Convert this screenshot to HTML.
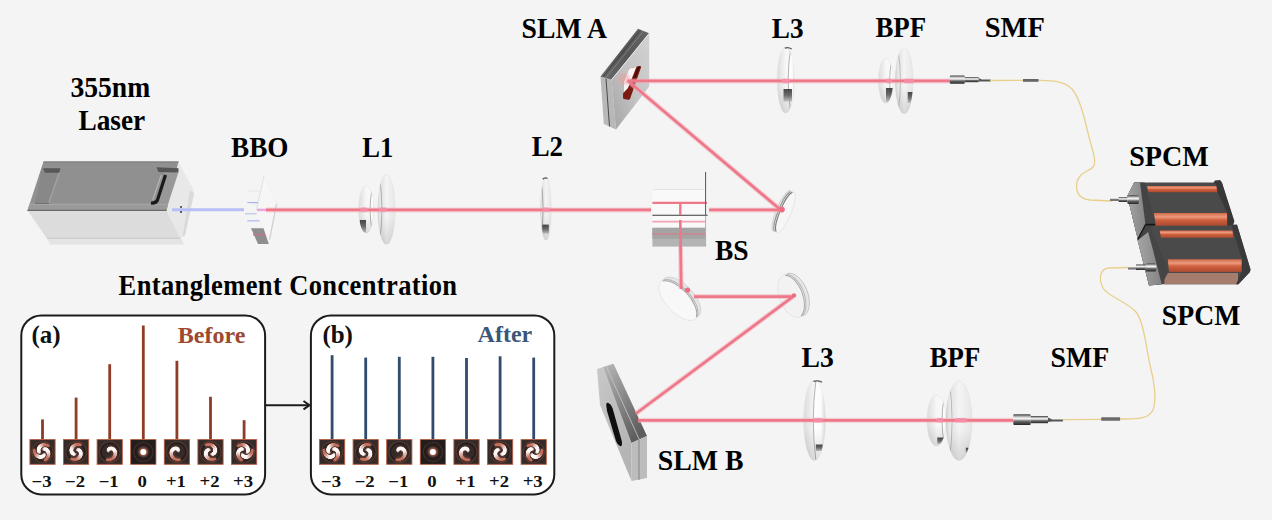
<!DOCTYPE html>
<html><head><meta charset="utf-8">
<style>
html,body{margin:0;padding:0;background:#f4f4f4;}
svg{display:block;}
</style></head>
<body>
<svg width="1272" height="520" viewBox="0 0 1272 520">
<defs>
<linearGradient id="gLens" x1="0" y1="0" x2="1" y2="0">
 <stop offset="0" stop-color="#d8d8d8"/><stop offset="0.25" stop-color="#fafafa"/><stop offset="1" stop-color="#f2f2f2"/>
</linearGradient>
<linearGradient id="gSlmTop" x1="0" y1="1" x2="1" y2="0">
 <stop offset="0" stop-color="#6a6a6a"/><stop offset="0.5" stop-color="#555555"/><stop offset="1" stop-color="#666666"/>
</linearGradient>
<linearGradient id="gSlmFace" x1="1" y1="0" x2="0" y2="1">
 <stop offset="0" stop-color="#d2d2d2"/><stop offset="0.5" stop-color="#c4c4c4"/><stop offset="1" stop-color="#a4a4a4"/>
</linearGradient>
<linearGradient id="gSlmB" x1="0" y1="0" x2="0.5" y2="1">
 <stop offset="0" stop-color="#c8c8c8"/><stop offset="1" stop-color="#b4b4b4"/>
</linearGradient>
<linearGradient id="gSlmBStrip" x1="0" y1="0" x2="0.6" y2="1">
 <stop offset="0" stop-color="#b8b8b8"/><stop offset="0.5" stop-color="#8a8a8a"/><stop offset="1" stop-color="#5e5e5e"/>
</linearGradient>
<linearGradient id="gConn" x1="0" y1="0" x2="0" y2="1">
 <stop offset="0" stop-color="#3a3a3a"/><stop offset="0.25" stop-color="#c8c8c8"/><stop offset="0.42" stop-color="#fafafa"/><stop offset="0.65" stop-color="#6a6a6a"/><stop offset="1" stop-color="#262626"/>
</linearGradient>
<linearGradient id="gOrange" x1="0" y1="0" x2="0" y2="1">
 <stop offset="0" stop-color="#d26a4a"/><stop offset="0.3" stop-color="#ec9a7c"/><stop offset="0.55" stop-color="#d0603e"/><stop offset="1" stop-color="#a84a30"/>
</linearGradient>
<linearGradient id="gLensL" x1="0" y1="0" x2="1" y2="0">
 <stop offset="0" stop-color="#d4d4d4"/><stop offset="0.3" stop-color="#f0f0f0"/><stop offset="0.6" stop-color="#fcfcfc"/><stop offset="1" stop-color="#ededed"/>
</linearGradient>
<linearGradient id="gLensR" x1="0" y1="0" x2="1" y2="0">
 <stop offset="0" stop-color="#f0f0f0"/><stop offset="0.4" stop-color="#fbfbfb"/><stop offset="0.7" stop-color="#f4f4f4"/><stop offset="1" stop-color="#d2d2d2"/>
</linearGradient>
<linearGradient id="gPatch" x1="0" y1="0" x2="0" y2="1">
 <stop offset="0" stop-color="#2a2a2a"/><stop offset="0.5" stop-color="#5a5a5a"/><stop offset="1" stop-color="#c8c8c8"/>
</linearGradient>
<linearGradient id="gBandR" x1="0" y1="0" x2="1" y2="0">
 <stop offset="0" stop-color="#ffffff"/><stop offset="0.6" stop-color="#fbfbfb"/><stop offset="1" stop-color="#cfcfcf"/>
</linearGradient>
<linearGradient id="gBandL" x1="0" y1="0" x2="1" y2="0">
 <stop offset="0" stop-color="#c4c4c4"/><stop offset="0.5" stop-color="#e2e2e2"/><stop offset="1" stop-color="#f4f4f4"/>
</linearGradient>
<linearGradient id="gFaceR" x1="0" y1="0" x2="1" y2="0">
 <stop offset="0" stop-color="#dcdcdc"/><stop offset="0.5" stop-color="#f6f6f6"/><stop offset="1" stop-color="#fafafa"/>
</linearGradient>
<linearGradient id="gFaceL" x1="0" y1="0" x2="1" y2="0">
 <stop offset="0" stop-color="#d6d8dc"/><stop offset="0.5" stop-color="#f4f4f4"/><stop offset="1" stop-color="#e6e6e6"/>
</linearGradient>
<linearGradient id="gShade" x1="0" y1="0" x2="0" y2="1">
 <stop offset="0" stop-color="#000" stop-opacity="0"/><stop offset="0.6" stop-color="#000" stop-opacity="0"/><stop offset="1" stop-color="#000" stop-opacity="0.12"/>
</linearGradient>
<linearGradient id="gCapL" x1="0" y1="0" x2="1" y2="0">
 <stop offset="0" stop-color="#a4a4a4"/><stop offset="1" stop-color="#848484"/>
</linearGradient>
<radialGradient id="gMode" cx="0.5" cy="0.5" r="0.6">
 <stop offset="0" stop-color="#5a3a34"/><stop offset="0.7" stop-color="#3a2a28"/><stop offset="1" stop-color="#2c2220"/>
</radialGradient>
<filter id="fb" x="-20%" y="-20%" width="140%" height="140%"><feGaussianBlur stdDeviation="0.6"/></filter>
<filter id="fm" x="-30%" y="-30%" width="160%" height="160%"><feGaussianBlur stdDeviation="0.55"/></filter>
<filter id="fb2" x="-50%" y="-50%" width="200%" height="200%"><feGaussianBlur stdDeviation="1.2"/></filter>
</defs>
<rect width="1272" height="520" fill="#f4f4f4"/>
<g id="laser">
<polygon points="47,238 181,238 184,244.5 50,244.5" fill="#e4e4e4"/>
<polygon points="27.5,210.5 166.5,210.5 180.5,238.5 47,238.5" fill="#dcdcdc"/>
<line x1="47" y1="238.3" x2="180.5" y2="238.3" stroke="#c4c4c4" stroke-width="0.8"/>
<polygon points="166.5,210.5 178.5,161.5 193,189 194,193.5 185,235.5 180.5,238.5" fill="#e8e8e8"/>
<polygon points="190,190 194,193.5 185,235.5 182.5,236.5" fill="#dadada"/>
<polygon points="43.5,161.5 178.5,161.5 166.5,210.5 27.5,210.5" fill="#909090"/>
<line x1="43.5" y1="162" x2="178.5" y2="162" stroke="#7a7a7a" stroke-width="1"/>
<polygon points="29.5,204 168,204 166.5,210.5 27.5,210.5" fill="#9a9a9a"/>
<line x1="29.5" y1="204.2" x2="168" y2="204.2" stroke="#b0b0b0" stroke-width="0.8"/>
<line x1="27.5" y1="210.3" x2="166.5" y2="210.3" stroke="#6a6a6a" stroke-width="1.3"/>
<polygon points="164,172 178.4,172.5 168,204 158,204" fill="#989898"/>
<polygon points="42.3,168 59.4,168 48.8,203 35,203" fill="#888888"/>
<polygon points="43,168.3 60.4,168.3 59.4,172.7 45,172.7" fill="#585858"/>
<line x1="59.4" y1="172.7" x2="48.8" y2="202.5" stroke="#a4a4a4" stroke-width="1.2"/>
<line x1="35" y1="203.5" x2="49" y2="203.5" stroke="#707070" stroke-width="1"/>
<polygon points="156.5,167.3 178.5,168.3 178.5,172.5 158.5,172" fill="#555"/>
<line x1="161.3" y1="175" x2="152.7" y2="200" stroke="#b4b4b4" stroke-width="1.2"/>
<path d="M165.5,175 L157.5,200 Q156,203.5 151,203" fill="none" stroke="#1a1a1a" stroke-width="3.2"/>
<line x1="172" y1="209.7" x2="244" y2="209.7" stroke="#b8bff6" stroke-width="3"/>
<circle cx="181" cy="207" r="1" fill="#334"/><circle cx="181" cy="212" r="1" fill="#334"/>
</g>
<g id="bbo">
<polygon points="264,175 276.5,204 269.6,239.5 256.5,210" fill="#f6f6f6"/>
<line x1="264" y1="175.5" x2="256.5" y2="210" stroke="#dcdcdc" stroke-width="0.9"/>
<line x1="264" y1="175.5" x2="276.5" y2="204" stroke="#ececec" stroke-width="0.7"/>
<line x1="276.5" y1="204" x2="269.6" y2="239.5" stroke="#cfcfcf" stroke-width="1.3"/>
<polygon points="251,228.2 263.5,228.2 268.8,244 258,244" fill="#8e8e8e"/>
<line x1="253" y1="234.6" x2="265" y2="234.6" stroke="#c07888" stroke-width="1.5"/>
<line x1="247.5" y1="191" x2="260" y2="191" stroke="#e2e2e2" stroke-width="0.8"/>
<line x1="247.3" y1="202.5" x2="258" y2="202.7" stroke="#a8b0f0" stroke-width="1.2"/>
<line x1="245" y1="213.8" x2="256.5" y2="213.8" stroke="#b4bce8" stroke-width="1"/>
<line x1="247.3" y1="220.8" x2="259.6" y2="220.8" stroke="#b0b8f0" stroke-width="1.2"/>
<line x1="257" y1="209.9" x2="266.5" y2="209.9" stroke="#eaa8e0" stroke-width="2.5"/>
</g>
<g id="bs">
<rect x="652.4" y="189" width="54" height="39" fill="#f9f9f9"/>
<line x1="653" y1="189.4" x2="704.2" y2="189.4" stroke="#dcdcdc" stroke-width="0.8"/>
<rect x="652.4" y="227.8" width="53.5" height="18.8" fill="#b4b4b4"/>
<rect x="652.4" y="227.8" width="53.5" height="11" fill="#a4a4a4"/>
<line x1="652.4" y1="233.8" x2="705" y2="233.8" stroke="#c48a90" stroke-width="1.8"/>
<line x1="652.4" y1="202.9" x2="706.9" y2="202.9" stroke="#ee7888" stroke-width="2.2"/>
<line x1="652.4" y1="215.3" x2="707.6" y2="215.3" stroke="#3a3a3a" stroke-width="1.1"/>
<line x1="652.4" y1="221.7" x2="706" y2="221.7" stroke="#f2a4b2" stroke-width="1.8"/>
<line x1="705.6" y1="172" x2="705.6" y2="215.7" stroke="#555" stroke-width="1"/>
<line x1="705.6" y1="215.7" x2="705.6" y2="246.5" stroke="#b0b0b0" stroke-width="1"/>
<line x1="680.3" y1="203" x2="680.3" y2="215" stroke="#ee7888" stroke-width="2.4"/>
<line x1="680.3" y1="220" x2="680.6" y2="250" stroke="#ee7888" stroke-width="2.6"/>
</g>
<g><clipPath id="lc1"><ellipse cx="366.1" cy="209.5" rx="7.4" ry="23.7"/></clipPath><ellipse cx="366.1" cy="209.5" rx="7.4" ry="23.7" fill="url(#gFaceR)" stroke="#e0e0e0" stroke-width="0.6"/><g clip-path="url(#lc1)"><path d="M372.5,185.8 Q367.5,209.5 372.5,233.2 L374.5,233.2 L374.5,185.8 Z" fill="url(#gBandR)"/><path d="M372.5,186.8 Q367.5,209.5 372.5,232.2" fill="none" stroke="#9c9c9c" stroke-width="0.9" opacity="0.85"/><rect x="359.7" y="220" width="6.300000000000011" height="12.5" fill="url(#gPatch)" opacity="0.85" filter="url(#fb)"/><rect x="358.70000000000005" y="185.8" width="14.8" height="47.4" fill="url(#gShade)"/></g></g>
<g><clipPath id="lc2"><ellipse cx="386.5" cy="209.6" rx="8.6" ry="35"/></clipPath><ellipse cx="386.5" cy="209.6" rx="8.6" ry="35" fill="url(#gFaceL)" stroke="#e0e0e0" stroke-width="0.6"/><g clip-path="url(#lc2)"><path d="M379.4,174.6 Q384.4,209.6 379.4,244.6 L376.9,244.6 L376.9,174.6 Z" fill="url(#gBandL)"/><path d="M379.4,175.6 Q384.4,209.6 379.4,243.6" fill="none" stroke="#8a8a8a" stroke-width="0.9" opacity="0.7"/><rect x="377.9" y="174.6" width="17.2" height="70" fill="url(#gShade)"/></g></g>
<g><clipPath id="lc3"><ellipse cx="545.9" cy="208.8" rx="5.3" ry="31.5"/></clipPath><ellipse cx="545.9" cy="208.8" rx="5.3" ry="31.5" fill="url(#gFaceL)" stroke="#e0e0e0" stroke-width="0.6"/><g clip-path="url(#lc3)"><path d="M540.6,177.3 Q545.6,208.8 540.6,240.3 L539.6,240.3 L539.6,177.3 Z" fill="url(#gBandL)"/><path d="M540.6,178.3 Q545.6,208.8 540.6,239.3" fill="none" stroke="#7a7a7a" stroke-width="0.9" opacity="0.7"/><rect x="542.3" y="224.6" width="6.5" height="9.0" fill="url(#gPatch)" opacity="0.85" filter="url(#fb)"/><rect x="540.6" y="177.3" width="10.6" height="63.0" fill="url(#gShade)"/></g><path d="M542.72,179.3 Q544.84,177.0 547.49,178.5" fill="none" stroke="#555" stroke-width="1.3"/></g>
<g><clipPath id="lc4"><ellipse cx="785.7" cy="80" rx="8.5" ry="33"/></clipPath><ellipse cx="785.7" cy="80" rx="8.5" ry="33" fill="url(#gFaceR)" stroke="#e0e0e0" stroke-width="0.6"/><g clip-path="url(#lc4)"><path d="M790.7,47 Q785.7,80 790.7,113 L795.2,113 L795.2,47 Z" fill="url(#gBandR)"/><path d="M790.7,48 Q785.7,80 790.7,112" fill="none" stroke="#9c9c9c" stroke-width="0.9" opacity="0.85"/><rect x="783.5" y="89" width="8.5" height="12.5" fill="url(#gPatch)" opacity="0.85" filter="url(#fb)"/><rect x="777.2" y="47" width="17.0" height="66" fill="url(#gShade)"/></g><path d="M784.85,48.2 Q788.25,46.7 791.6500000000001,49" fill="none" stroke="#555" stroke-width="1.3"/></g>
<g><clipPath id="lc5"><ellipse cx="885.8" cy="80.8" rx="7.3" ry="22.3"/></clipPath><ellipse cx="885.8" cy="80.8" rx="7.3" ry="22.3" fill="url(#gFaceR)" stroke="#e0e0e0" stroke-width="0.6"/><g clip-path="url(#lc5)"><path d="M892.0999999999999,58.5 Q887.0999999999999,80.8 892.0999999999999,103.1 L894.0999999999999,103.1 L894.0999999999999,58.5 Z" fill="url(#gBandR)"/><path d="M892.0999999999999,59.5 Q887.0999999999999,80.8 892.0999999999999,102.1" fill="none" stroke="#9c9c9c" stroke-width="0.9" opacity="0.85"/><rect x="886" y="88" width="7" height="13.5" fill="url(#gPatch)" opacity="0.85" filter="url(#fb)"/><rect x="878.5" y="58.5" width="14.6" height="44.6" fill="url(#gShade)"/></g></g>
<g><clipPath id="lc6"><ellipse cx="904.2" cy="80.8" rx="8.8" ry="33"/></clipPath><ellipse cx="904.2" cy="80.8" rx="8.8" ry="33" fill="url(#gFaceL)" stroke="#e0e0e0" stroke-width="0.6"/><g clip-path="url(#lc6)"><path d="M897.9000000000001,47.8 Q902.9000000000001,80.8 897.9000000000001,113.8 L894.4000000000001,113.8 L894.4000000000001,47.8 Z" fill="url(#gBandL)"/><path d="M897.9000000000001,48.8 Q902.9000000000001,80.8 897.9000000000001,112.8" fill="none" stroke="#9c9c9c" stroke-width="0.9" opacity="0.7"/><rect x="907.7" y="92" width="5.2999999999999545" height="11" fill="url(#gPatch)" opacity="0.85" filter="url(#fb)"/><rect x="895.4000000000001" y="47.8" width="17.6" height="66" fill="url(#gShade)"/></g></g>
<g><clipPath id="lc7"><ellipse cx="814.5" cy="420.4" rx="10.8" ry="40.2"/></clipPath><ellipse cx="814.5" cy="420.4" rx="10.8" ry="40.2" fill="url(#gFaceR)" stroke="#e0e0e0" stroke-width="0.6"/><g clip-path="url(#lc7)"><path d="M815.8,380.2 Q810.8,420.4 815.8,460.59999999999997 L826.3,460.59999999999997 L826.3,380.2 Z" fill="url(#gBandR)"/><path d="M815.8,381.2 Q810.8,420.4 815.8,459.59999999999997" fill="none" stroke="#9c9c9c" stroke-width="0.9" opacity="0.85"/><rect x="815.8" y="444.5" width="6.900000000000091" height="6.5" fill="url(#gPatch)" opacity="0.85" filter="url(#fb)"/><rect x="803.7" y="380.2" width="21.6" height="80.4" fill="url(#gShade)"/></g><path d="M813.42,381.4 Q817.74,379.9 822.06,382.2" fill="none" stroke="#555" stroke-width="1.3"/></g>
<g><clipPath id="lc8"><ellipse cx="936.5" cy="420.5" rx="9.5" ry="25.5"/></clipPath><ellipse cx="936.5" cy="420.5" rx="9.5" ry="25.5" fill="url(#gFaceR)" stroke="#e0e0e0" stroke-width="0.6"/><g clip-path="url(#lc8)"><path d="M944.5,395.0 Q939.5,420.5 944.5,446.0 L947.0,446.0 L947.0,395.0 Z" fill="url(#gBandR)"/><path d="M944.5,396.0 Q939.5,420.5 944.5,445.0" fill="none" stroke="#9c9c9c" stroke-width="0.9" opacity="0.85"/><rect x="937.3" y="437.5" width="6.900000000000091" height="6.5" fill="url(#gPatch)" opacity="0.85" filter="url(#fb)"/><rect x="927.0" y="395.0" width="19.0" height="51.0" fill="url(#gShade)"/></g></g>
<g><clipPath id="lc9"><ellipse cx="959" cy="420.8" rx="13" ry="39.8"/></clipPath><ellipse cx="959" cy="420.8" rx="13" ry="39.8" fill="url(#gFaceL)" stroke="#e0e0e0" stroke-width="0.6"/><g clip-path="url(#lc9)"><path d="M949.5,381.0 Q954.5,420.8 949.5,460.6 L945,460.6 L945,381.0 Z" fill="url(#gBandL)"/><path d="M949.5,382.0 Q954.5,420.8 949.5,459.6" fill="none" stroke="#9c9c9c" stroke-width="0.9" opacity="0.7"/><rect x="965.8" y="447.7" width="3.7000000000000455" height="5.300000000000011" fill="url(#gPatch)" opacity="0.85" filter="url(#fb)"/><rect x="946" y="381.0" width="26" height="79.6" fill="url(#gShade)"/></g></g>
<g transform="translate(785.5,212.5) rotate(-67.4)"><ellipse cx="0" cy="-4" rx="22" ry="5.5" fill="#e4e4e4" stroke="#cfcfcf" stroke-width="0.8"/><rect x="-22" y="-4" width="44" height="4" fill="#e4e4e4"/><ellipse cx="0" cy="0" rx="22" ry="5.5" fill="#f6f6f6" stroke="#dedede" stroke-width="0.6"/><path d="M-21.34,-1.40 A22,5.5 0 0 1 21.34,-1.40" fill="none" stroke="#707070" stroke-width="1.1" opacity="0.9"/><path d="M-21.34,-3.20 A22,5.5 0 0 1 21.34,-3.20" fill="none" stroke="#707070" stroke-width="1.1" opacity="0.7"/></g>
<g transform="translate(678.5,300) rotate(47)"><ellipse cx="0" cy="-3.5" rx="25.5" ry="12.5" fill="#e6e6e6" stroke="#cfcfcf" stroke-width="0.8"/><rect x="-25.5" y="-3.5" width="51.0" height="3.5" fill="#e6e6e6"/><ellipse cx="0" cy="0" rx="25.5" ry="12.5" fill="#f8f8f8" stroke="#dedede" stroke-width="0.6"/><path d="M-24.735,-1.22 A25.5,12.5 0 0 1 24.735,-1.22" fill="none" stroke="#a0a0a0" stroke-width="1.1" opacity="0.9"/><path d="M-24.735,-2.80 A25.5,12.5 0 0 1 24.735,-2.80" fill="none" stroke="#a0a0a0" stroke-width="1.1" opacity="0.7"/></g>
<g transform="translate(792,296) rotate(69)"><ellipse cx="0" cy="-3.5" rx="22.5" ry="12.5" fill="#e6e6e6" stroke="#c0c0c0" stroke-width="0.8"/><rect x="-22.5" y="-3.5" width="45.0" height="3.5" fill="#e6e6e6"/><ellipse cx="0" cy="0" rx="22.5" ry="12.5" fill="#f2f2f2" stroke="#dedede" stroke-width="0.6"/><path d="M-21.825,-1.22 A22.5,12.5 0 0 1 21.825,-1.22" fill="none" stroke="#a0a0a0" stroke-width="1.0" opacity="0.9"/><path d="M-21.825,-2.80 A22.5,12.5 0 0 1 21.825,-2.80" fill="none" stroke="#a0a0a0" stroke-width="1.0" opacity="0.7"/></g>
<g id="slmA">
<polygon points="600.5,76.4 611.6,79.7 616,129.5 603.8,124" fill="#b8b8b8"/>
<line x1="606" y1="78.5" x2="609.5" y2="126.5" stroke="#4a4a4a" stroke-width="1"/>
<polygon points="600.5,76.4 638,28.8 649.2,33.3 611.6,79.7" fill="url(#gSlmTop)"/>
<line x1="603" y1="77" x2="640" y2="30.5" stroke="#3a3a3a" stroke-width="0.8"/>
<polygon points="611.6,79.7 649.2,33.3 649.2,86.4 616,129.5" fill="url(#gSlmFace)"/>
<line x1="611.6" y1="79.7" x2="649.2" y2="33.3" stroke="#e8e8e8" stroke-width="1"/>
<line x1="606" y1="77.5" x2="643.5" y2="31" stroke="#8a8a8a" stroke-width="0.8"/>
<path d="M629,68.5 L640,66 Q641.5,66 641,67.5 L630,99 Q629.5,100 628,99.8 L624,99 Q622.8,98.8 623,97 L623.5,82 Z" fill="#7a1c12"/>
<path d="M629,68.5 L636.5,66.8 L628,88 L623.3,93 L623.5,82 Z" fill="#f8f4f4"/>
<path d="M637.5,66.6 L640.5,66 L634,82 L631.5,83 Z" fill="#3a0804" opacity="0.7"/>
<circle cx="624" cy="79" r="6" fill="#f09a9a" opacity="0.45" filter="url(#fb2)"/>
</g>
<g id="slmB">
<polygon points="597,369 603,367 631.5,443 631.5,481 600,405" fill="url(#gSlmB)"/>
<polygon points="603,367 613.5,363.8 647,436 631.5,443" fill="url(#gSlmBStrip)"/>
<line x1="606" y1="366" x2="639" y2="439" stroke="#c8c8c8" stroke-width="0.8"/>
<polygon points="631.5,443 647,436 647,478 631.5,481" fill="#bcbcbc"/>
<line x1="639" y1="440" x2="639" y2="480" stroke="#777" stroke-width="0.8"/>
<path d="M606.5,407 Q605.5,402 608.5,403 Q611,404 612.5,408 L621.5,440 Q623,447 620,446 Q617.5,445 616,441 L607,411 Z" fill="#0e0e0e"/>
</g>
<g stroke="#f4b4c0" stroke-width="5" fill="none" opacity="0.55">
<line x1="266" y1="209.9" x2="651" y2="209.9"/>
<line x1="709" y1="209.9" x2="779" y2="209.9"/>
<line x1="779" y1="208.5" x2="627.5" y2="80.5"/>
<line x1="627.5" y1="80.9" x2="950" y2="80.9"/>
<line x1="680.6" y1="246" x2="681.2" y2="289"/>
<line x1="694" y1="296.6" x2="793" y2="296.6"/>
<line x1="793" y1="296.6" x2="636" y2="413.5"/>
<line x1="638" y1="420.3" x2="1013" y2="420.3"/>
</g>
<g id="beams" stroke="#ee7888" stroke-width="2.8" fill="none">
<line x1="266" y1="209.9" x2="651" y2="209.9"/>
<line x1="709" y1="209.9" x2="779" y2="209.9"/>
<line x1="779" y1="208.5" x2="627.5" y2="80.5" stroke-width="2.8"/>
<line x1="627.5" y1="80.9" x2="950" y2="80.9"/>
<line x1="680.6" y1="246" x2="681.2" y2="289" stroke-width="2.8"/>
<line x1="694" y1="296.6" x2="793" y2="296.6"/>
<line x1="793" y1="296.6" x2="636" y2="413.5" stroke-width="2.8"/>
<line x1="638" y1="420.3" x2="1013" y2="420.3"/>
</g>
<g fill="#f06a80" filter="url(#fb)"><circle cx="782" cy="209.6" r="2.8"/><circle cx="687.5" cy="290" r="2.6"/><circle cx="794" cy="295.5" r="2.2"/></g>
<g fill="#f590a8" opacity="0.9"><rect x="360.5" y="207.4" width="7" height="4.4" rx="1.5"/><rect x="379.0" y="207.4" width="8" height="4.4" rx="1.5"/><rect x="542.5" y="207.4" width="7" height="4.4" rx="1.5"/><rect x="782.0" y="78.8" width="8" height="4.4" rx="1.5"/><rect x="886.0" y="78.8" width="6" height="4.4" rx="1.5"/><rect x="904.0" y="78.8" width="10" height="4.4" rx="1.5"/><rect x="813.0" y="418.1" width="10" height="4.4" rx="1.5"/><rect x="936.5" y="418.1" width="7" height="4.4" rx="1.5"/><rect x="955.0" y="418.1" width="12" height="4.4" rx="1.5"/></g>
<g><rect x="949.8" y="75.39999999999999" width="15" height="8.4" rx="1" fill="url(#gConn)"/><rect x="964.8" y="77.0" width="13.9" height="5.2" fill="url(#gConn)"/><path d="M978.6999999999999,78.03999999999999 L981.8199999999999,79.6 L990.8,79.6 L990.8,81.6 L981.8199999999999,81.6 L978.6999999999999,81.41999999999999 Z" fill="#555"/></g>
<g><rect x="1013.3" y="414.20000000000005" width="17.4" height="10.8" rx="1" fill="url(#gConn)"/><rect x="1030.7" y="416.0" width="17.3" height="7.2" fill="url(#gConn)"/><path d="M1048.0,417.44 L1052.32,419.6 L1062.9,419.6 L1062.9,421.6 L1052.32,421.6 L1048.0,422.12 Z" fill="#555"/></g>
<g fill="none" stroke="#e8cf8c" stroke-width="1.3">
<path d="M990,80.5 L1023,80.3"/>
<path d="M1038.5,80.3 C1050,80.5 1063,80 1072,89 C1080,98 1085,120 1089,137 C1093,152 1097,162 1093,167 C1088,172 1080,172 1077,182 C1075,193 1080,199 1090,200 L1112,201"/>
<path d="M1062.9,419.7 L1101.2,419.3"/>
<path d="M1120,419 C1135,419 1148,420 1153,410 C1157,400 1154,380 1150,365 C1146,345 1143,320 1136,312 C1125,300 1108,297 1103,288 C1098,278 1100,268 1110,268 L1128,267.5"/>
</g>
<rect x="1023" y="79" width="15.5" height="2.8" fill="#666"/>
<rect x="1101.2" y="417.3" width="18.9" height="3.5" rx="0.5" fill="#6a6a6a"/>
<g id="spcm">
<!-- lower unit -->
<polygon points="1164.4,272 1241,272 1238.4,284.2 1164.4,284.2" fill="#b08272"/>
<polygon points="1150,224.5 1237,224.5 1250.5,269.4 1249.9,272 1238.4,284.2 1161.7,284.2 1149,285.6 1137.5,239.8 1140,224.5" fill="#4a4a4a"/>
<polygon points="1164.4,273 1238,273 1238,284 1164.4,284" fill="#b08272" opacity="0.9"/>
<polygon points="1140,227 1150,227 1169,271 1161.7,284.2 1149,285.6 1137.5,239.8" fill="#454545"/>
<polygon points="1137.5,240 1147,227.7 1153,250 1161.7,284.2 1149,285.6" fill="url(#gCapL)"/>
<polygon points="1159.7,230.4 1232.4,230.4 1233.5,237.8 1161,237.8" fill="url(#gOrange)"/>
<polygon points="1167.8,259.3 1241.8,259.3 1241.8,272.1 1169,272.1" fill="url(#gOrange)"/>
<polygon points="1231.7,225 1237,225 1250.5,269.4 1249.9,272 1238.4,284.2 1236,284.2 1241.8,272 1241.8,259 1233,230" fill="#3a3a3a"/>
<!-- upper unit -->
<polygon points="1134.2,182.5 1221.6,182.5 1234.3,221.2 1233,224.7 1227.3,225.8 1155,226 1148,232 1138,240 1127.3,196" fill="#4a4a4a"/>
<polygon points="1134.2,182.5 1144.6,182.5 1155,224 1149,231 1138,240 1127.3,196" fill="#444"/>
<polygon points="1134.2,182.5 1140,182.5 1145.4,224 1137.7,239.5 1127.3,196" fill="url(#gCapL)"/>
<line x1="1145.6" y1="224.5" x2="1137.9" y2="239" stroke="#151515" stroke-width="1.3"/>
<line x1="1145.5" y1="224.6" x2="1155" y2="224.6" stroke="#151515" stroke-width="1.6"/>
<polygon points="1147,186 1217,186 1217.5,192.3 1148.5,192.3" fill="url(#gOrange)"/>
<polygon points="1153.9,213 1227.3,213 1227.3,225.8 1156,225.8" fill="url(#gOrange)"/>
<polygon points="1213.5,182.5 1215,180.5 1220,180 1222,182.5 1234.3,221.2 1233,224.7 1227.3,225.8 1227.3,213 1217.5,192.3 1216,184" fill="#383838"/>
<!-- connectors -->
<rect x="1110" y="198.8" width="9" height="2.2" fill="#777"/>
<rect x="1118.7" y="197" width="8.6" height="5" fill="url(#gConn)"/>
<rect x="1127.3" y="195.2" width="11.6" height="8.7" rx="1.5" fill="url(#gConn)"/>
<rect x="1128" y="267.4" width="8" height="2.2" fill="#777"/>
<rect x="1136" y="264.5" width="9.6" height="5.5" fill="url(#gConn)"/>
<rect x="1145.6" y="263.4" width="10.7" height="8" rx="1.5" fill="url(#gConn)"/>
</g>
<rect x="21.3" y="315.4" width="243.8" height="179" rx="20" ry="20" fill="#fff" stroke="#1c1c1c" stroke-width="2"/>
<rect x="310.9" y="315.4" width="243.4" height="179" rx="20" ry="20" fill="#fff" stroke="#1c1c1c" stroke-width="2"/>
<line x1="265" y1="405.2" x2="309" y2="405.2" stroke="#1c1c1c" stroke-width="2"/>
<polyline points="303.5,401 309.5,405.2 303.5,409.4" fill="none" stroke="#1c1c1c" stroke-width="2"/>
<line x1="42.5" y1="419.4" x2="42.5" y2="439.5" stroke="#8e3c28" stroke-width="2.8"/>
<g transform="translate(29.5,439.2)"><rect x="0.4" y="0.4" width="25.2" height="24.7" fill="#342a28" stroke="#b45c40" stroke-width="0.9"/><circle cx="13" cy="12.75" r="10.4" fill="none" stroke="#6a4238" stroke-width="1.3" opacity="0.5" filter="url(#fb)"/><circle cx="13" cy="12.75" r="8.8" fill="none" stroke="#1c1514" stroke-width="1.6" opacity="0.6" filter="url(#fb)"/><g filter="url(#fb2)" opacity="0.55"><line x1="9.57" y1="12.65" x2="9.35" y2="12.21" stroke="#a05a48" stroke-width="5"/><line x1="9.35" y1="12.21" x2="9.19" y2="11.72" stroke="#a05a48" stroke-width="5"/><line x1="9.19" y1="11.72" x2="9.09" y2="11.19" stroke="#a05a48" stroke-width="5"/><line x1="9.09" y1="11.19" x2="9.07" y2="10.62" stroke="#a05a48" stroke-width="5"/><line x1="9.07" y1="10.62" x2="9.14" y2="10.03" stroke="#a05a48" stroke-width="5"/><line x1="9.14" y1="10.03" x2="9.29" y2="9.43" stroke="#a05a48" stroke-width="5"/><line x1="9.29" y1="9.43" x2="9.53" y2="8.82" stroke="#a05a48" stroke-width="5"/><line x1="9.53" y1="8.82" x2="9.86" y2="8.23" stroke="#a05a48" stroke-width="5"/><line x1="9.86" y1="8.23" x2="10.29" y2="7.67" stroke="#a05a48" stroke-width="5"/><line x1="10.29" y1="7.67" x2="10.80" y2="7.15" stroke="#a05a48" stroke-width="5"/><line x1="10.80" y1="7.15" x2="11.40" y2="6.68" stroke="#a05a48" stroke-width="5"/><line x1="11.40" y1="6.68" x2="12.09" y2="6.28" stroke="#a05a48" stroke-width="5"/><line x1="12.09" y1="6.28" x2="12.84" y2="5.96" stroke="#a05a48" stroke-width="5"/><line x1="12.84" y1="5.96" x2="13.65" y2="5.73" stroke="#a05a48" stroke-width="5"/><line x1="13.65" y1="5.73" x2="14.52" y2="5.60" stroke="#a05a48" stroke-width="5"/><line x1="14.52" y1="5.60" x2="15.42" y2="5.58" stroke="#a05a48" stroke-width="5"/><line x1="15.42" y1="5.58" x2="16.35" y2="5.68" stroke="#a05a48" stroke-width="5"/><line x1="16.35" y1="5.68" x2="17.29" y2="5.90" stroke="#a05a48" stroke-width="5"/><line x1="17.29" y1="5.90" x2="18.22" y2="6.24" stroke="#a05a48" stroke-width="5"/><line x1="18.22" y1="6.24" x2="19.13" y2="6.71" stroke="#a05a48" stroke-width="5"/><line x1="14.81" y1="9.83" x2="15.29" y2="9.86" stroke="#a05a48" stroke-width="5"/><line x1="15.29" y1="9.86" x2="15.80" y2="9.96" stroke="#a05a48" stroke-width="5"/><line x1="15.80" y1="9.96" x2="16.31" y2="10.15" stroke="#a05a48" stroke-width="5"/><line x1="16.31" y1="10.15" x2="16.81" y2="10.41" stroke="#a05a48" stroke-width="5"/><line x1="16.81" y1="10.41" x2="17.29" y2="10.77" stroke="#a05a48" stroke-width="5"/><line x1="17.29" y1="10.77" x2="17.74" y2="11.20" stroke="#a05a48" stroke-width="5"/><line x1="17.74" y1="11.20" x2="18.14" y2="11.71" stroke="#a05a48" stroke-width="5"/><line x1="18.14" y1="11.71" x2="18.48" y2="12.29" stroke="#a05a48" stroke-width="5"/><line x1="18.48" y1="12.29" x2="18.76" y2="12.94" stroke="#a05a48" stroke-width="5"/><line x1="18.76" y1="12.94" x2="18.95" y2="13.65" stroke="#a05a48" stroke-width="5"/><line x1="18.95" y1="13.65" x2="19.05" y2="14.40" stroke="#a05a48" stroke-width="5"/><line x1="19.05" y1="14.40" x2="19.06" y2="15.19" stroke="#a05a48" stroke-width="5"/><line x1="19.06" y1="15.19" x2="18.96" y2="16.00" stroke="#a05a48" stroke-width="5"/><line x1="18.96" y1="16.00" x2="18.75" y2="16.83" stroke="#a05a48" stroke-width="5"/><line x1="18.75" y1="16.83" x2="18.43" y2="17.64" stroke="#a05a48" stroke-width="5"/><line x1="18.43" y1="17.64" x2="17.99" y2="18.43" stroke="#a05a48" stroke-width="5"/><line x1="17.99" y1="18.43" x2="17.45" y2="19.19" stroke="#a05a48" stroke-width="5"/><line x1="17.45" y1="19.19" x2="16.79" y2="19.89" stroke="#a05a48" stroke-width="5"/><line x1="16.79" y1="19.89" x2="16.02" y2="20.52" stroke="#a05a48" stroke-width="5"/><line x1="16.02" y1="20.52" x2="15.16" y2="21.07" stroke="#a05a48" stroke-width="5"/><line x1="14.63" y1="15.77" x2="14.36" y2="16.18" stroke="#a05a48" stroke-width="5"/><line x1="14.36" y1="16.18" x2="14.02" y2="16.57" stroke="#a05a48" stroke-width="5"/><line x1="14.02" y1="16.57" x2="13.60" y2="16.92" stroke="#a05a48" stroke-width="5"/><line x1="13.60" y1="16.92" x2="13.12" y2="17.22" stroke="#a05a48" stroke-width="5"/><line x1="13.12" y1="17.22" x2="12.57" y2="17.46" stroke="#a05a48" stroke-width="5"/><line x1="12.57" y1="17.46" x2="11.98" y2="17.63" stroke="#a05a48" stroke-width="5"/><line x1="11.98" y1="17.63" x2="11.33" y2="17.72" stroke="#a05a48" stroke-width="5"/><line x1="11.33" y1="17.72" x2="10.66" y2="17.73" stroke="#a05a48" stroke-width="5"/><line x1="10.66" y1="17.73" x2="9.96" y2="17.64" stroke="#a05a48" stroke-width="5"/><line x1="9.96" y1="17.64" x2="9.25" y2="17.45" stroke="#a05a48" stroke-width="5"/><line x1="9.25" y1="17.45" x2="8.54" y2="17.17" stroke="#a05a48" stroke-width="5"/><line x1="8.54" y1="17.17" x2="7.86" y2="16.78" stroke="#a05a48" stroke-width="5"/><line x1="7.86" y1="16.78" x2="7.20" y2="16.28" stroke="#a05a48" stroke-width="5"/><line x1="7.20" y1="16.28" x2="6.59" y2="15.69" stroke="#a05a48" stroke-width="5"/><line x1="6.59" y1="15.69" x2="6.05" y2="15.01" stroke="#a05a48" stroke-width="5"/><line x1="6.05" y1="15.01" x2="5.58" y2="14.23" stroke="#a05a48" stroke-width="5"/><line x1="5.58" y1="14.23" x2="5.20" y2="13.38" stroke="#a05a48" stroke-width="5"/><line x1="5.20" y1="13.38" x2="4.92" y2="12.46" stroke="#a05a48" stroke-width="5"/><line x1="4.92" y1="12.46" x2="4.76" y2="11.48" stroke="#a05a48" stroke-width="5"/><line x1="4.76" y1="11.48" x2="4.71" y2="10.46" stroke="#a05a48" stroke-width="5"/></g><g filter="url(#fm)"><line x1="10.82" y1="13.76" x2="10.48" y2="13.59" stroke="#67423b" stroke-width="1.75" stroke-linecap="round"/><line x1="10.48" y1="13.59" x2="10.14" y2="13.34" stroke="#83645d" stroke-width="2.05" stroke-linecap="round"/><line x1="10.14" y1="13.34" x2="9.84" y2="13.02" stroke="#9e857f" stroke-width="2.35" stroke-linecap="round"/><line x1="9.84" y1="13.02" x2="9.57" y2="12.65" stroke="#baa6a2" stroke-width="2.65" stroke-linecap="round"/><line x1="9.57" y1="12.65" x2="9.35" y2="12.21" stroke="#d5c8c4" stroke-width="2.95" stroke-linecap="round"/><line x1="9.35" y1="12.21" x2="9.19" y2="11.72" stroke="#f1e9e6" stroke-width="3.25" stroke-linecap="round"/><line x1="9.19" y1="11.72" x2="9.09" y2="11.19" stroke="#fffaf8" stroke-width="3.40" stroke-linecap="round"/><line x1="9.09" y1="11.19" x2="9.07" y2="10.62" stroke="#fffaf8" stroke-width="3.40" stroke-linecap="round"/><line x1="9.07" y1="10.62" x2="9.14" y2="10.03" stroke="#fffaf8" stroke-width="3.40" stroke-linecap="round"/><line x1="9.14" y1="10.03" x2="9.29" y2="9.43" stroke="#fffaf8" stroke-width="3.40" stroke-linecap="round"/><line x1="9.29" y1="9.43" x2="9.53" y2="8.82" stroke="#fffaf8" stroke-width="3.40" stroke-linecap="round"/><line x1="9.53" y1="8.82" x2="9.86" y2="8.23" stroke="#fffaf8" stroke-width="3.40" stroke-linecap="round"/><line x1="9.86" y1="8.23" x2="10.29" y2="7.67" stroke="#fffaf8" stroke-width="3.40" stroke-linecap="round"/><line x1="10.29" y1="7.67" x2="10.80" y2="7.15" stroke="#fffaf8" stroke-width="3.40" stroke-linecap="round"/><line x1="10.80" y1="7.15" x2="11.40" y2="6.68" stroke="#fef7f5" stroke-width="3.39" stroke-linecap="round"/><line x1="11.40" y1="6.68" x2="12.09" y2="6.28" stroke="#f4e2dd" stroke-width="3.24" stroke-linecap="round"/><line x1="12.09" y1="6.28" x2="12.84" y2="5.96" stroke="#ebccc4" stroke-width="3.09" stroke-linecap="round"/><line x1="12.84" y1="5.96" x2="13.65" y2="5.73" stroke="#e2b7ac" stroke-width="2.95" stroke-linecap="round"/><line x1="13.65" y1="5.73" x2="14.52" y2="5.60" stroke="#d9a194" stroke-width="2.80" stroke-linecap="round"/><line x1="14.52" y1="5.60" x2="15.42" y2="5.58" stroke="#cf8c7b" stroke-width="2.66" stroke-linecap="round"/><line x1="15.42" y1="5.58" x2="16.35" y2="5.68" stroke="#c67663" stroke-width="2.51" stroke-linecap="round"/><line x1="16.35" y1="5.68" x2="17.29" y2="5.90" stroke="#c4705c" stroke-width="2.36" stroke-linecap="round"/><line x1="17.29" y1="5.90" x2="18.22" y2="6.24" stroke="#c4705c" stroke-width="2.22" stroke-linecap="round"/><line x1="18.22" y1="6.24" x2="19.13" y2="6.71" stroke="#c4705c" stroke-width="2.07" stroke-linecap="round"/><line x1="13.21" y1="10.36" x2="13.54" y2="10.15" stroke="#67423b" stroke-width="1.75" stroke-linecap="round"/><line x1="13.54" y1="10.15" x2="13.92" y2="9.98" stroke="#83645d" stroke-width="2.05" stroke-linecap="round"/><line x1="13.92" y1="9.98" x2="14.34" y2="9.87" stroke="#9e857f" stroke-width="2.35" stroke-linecap="round"/><line x1="14.34" y1="9.87" x2="14.81" y2="9.83" stroke="#baa6a2" stroke-width="2.65" stroke-linecap="round"/><line x1="14.81" y1="9.83" x2="15.29" y2="9.86" stroke="#d5c8c4" stroke-width="2.95" stroke-linecap="round"/><line x1="15.29" y1="9.86" x2="15.80" y2="9.96" stroke="#f1e9e6" stroke-width="3.25" stroke-linecap="round"/><line x1="15.80" y1="9.96" x2="16.31" y2="10.15" stroke="#fffaf8" stroke-width="3.40" stroke-linecap="round"/><line x1="16.31" y1="10.15" x2="16.81" y2="10.41" stroke="#fffaf8" stroke-width="3.40" stroke-linecap="round"/><line x1="16.81" y1="10.41" x2="17.29" y2="10.77" stroke="#fffaf8" stroke-width="3.40" stroke-linecap="round"/><line x1="17.29" y1="10.77" x2="17.74" y2="11.20" stroke="#fffaf8" stroke-width="3.40" stroke-linecap="round"/><line x1="17.74" y1="11.20" x2="18.14" y2="11.71" stroke="#fffaf8" stroke-width="3.40" stroke-linecap="round"/><line x1="18.14" y1="11.71" x2="18.48" y2="12.29" stroke="#fffaf8" stroke-width="3.40" stroke-linecap="round"/><line x1="18.48" y1="12.29" x2="18.76" y2="12.94" stroke="#fffaf8" stroke-width="3.40" stroke-linecap="round"/><line x1="18.76" y1="12.94" x2="18.95" y2="13.65" stroke="#fffaf8" stroke-width="3.40" stroke-linecap="round"/><line x1="18.95" y1="13.65" x2="19.05" y2="14.40" stroke="#fef7f5" stroke-width="3.39" stroke-linecap="round"/><line x1="19.05" y1="14.40" x2="19.06" y2="15.19" stroke="#f4e2dd" stroke-width="3.24" stroke-linecap="round"/><line x1="19.06" y1="15.19" x2="18.96" y2="16.00" stroke="#ebccc4" stroke-width="3.09" stroke-linecap="round"/><line x1="18.96" y1="16.00" x2="18.75" y2="16.83" stroke="#e2b7ac" stroke-width="2.95" stroke-linecap="round"/><line x1="18.75" y1="16.83" x2="18.43" y2="17.64" stroke="#d9a194" stroke-width="2.80" stroke-linecap="round"/><line x1="18.43" y1="17.64" x2="17.99" y2="18.43" stroke="#cf8c7b" stroke-width="2.66" stroke-linecap="round"/><line x1="17.99" y1="18.43" x2="17.45" y2="19.19" stroke="#c67663" stroke-width="2.51" stroke-linecap="round"/><line x1="17.45" y1="19.19" x2="16.79" y2="19.89" stroke="#c4705c" stroke-width="2.36" stroke-linecap="round"/><line x1="16.79" y1="19.89" x2="16.02" y2="20.52" stroke="#c4705c" stroke-width="2.22" stroke-linecap="round"/><line x1="16.02" y1="20.52" x2="15.16" y2="21.07" stroke="#c4705c" stroke-width="2.07" stroke-linecap="round"/><line x1="14.97" y1="14.13" x2="14.99" y2="14.52" stroke="#67423b" stroke-width="1.75" stroke-linecap="round"/><line x1="14.99" y1="14.52" x2="14.94" y2="14.93" stroke="#83645d" stroke-width="2.05" stroke-linecap="round"/><line x1="14.94" y1="14.93" x2="14.82" y2="15.35" stroke="#9e857f" stroke-width="2.35" stroke-linecap="round"/><line x1="14.82" y1="15.35" x2="14.63" y2="15.77" stroke="#baa6a2" stroke-width="2.65" stroke-linecap="round"/><line x1="14.63" y1="15.77" x2="14.36" y2="16.18" stroke="#d5c8c4" stroke-width="2.95" stroke-linecap="round"/><line x1="14.36" y1="16.18" x2="14.02" y2="16.57" stroke="#f1e9e6" stroke-width="3.25" stroke-linecap="round"/><line x1="14.02" y1="16.57" x2="13.60" y2="16.92" stroke="#fffaf8" stroke-width="3.40" stroke-linecap="round"/><line x1="13.60" y1="16.92" x2="13.12" y2="17.22" stroke="#fffaf8" stroke-width="3.40" stroke-linecap="round"/><line x1="13.12" y1="17.22" x2="12.57" y2="17.46" stroke="#fffaf8" stroke-width="3.40" stroke-linecap="round"/><line x1="12.57" y1="17.46" x2="11.98" y2="17.63" stroke="#fffaf8" stroke-width="3.40" stroke-linecap="round"/><line x1="11.98" y1="17.63" x2="11.33" y2="17.72" stroke="#fffaf8" stroke-width="3.40" stroke-linecap="round"/><line x1="11.33" y1="17.72" x2="10.66" y2="17.73" stroke="#fffaf8" stroke-width="3.40" stroke-linecap="round"/><line x1="10.66" y1="17.73" x2="9.96" y2="17.64" stroke="#fffaf8" stroke-width="3.40" stroke-linecap="round"/><line x1="9.96" y1="17.64" x2="9.25" y2="17.45" stroke="#fffaf8" stroke-width="3.40" stroke-linecap="round"/><line x1="9.25" y1="17.45" x2="8.54" y2="17.17" stroke="#fef7f5" stroke-width="3.39" stroke-linecap="round"/><line x1="8.54" y1="17.17" x2="7.86" y2="16.78" stroke="#f4e2dd" stroke-width="3.24" stroke-linecap="round"/><line x1="7.86" y1="16.78" x2="7.20" y2="16.28" stroke="#ebccc4" stroke-width="3.09" stroke-linecap="round"/><line x1="7.20" y1="16.28" x2="6.59" y2="15.69" stroke="#e2b7ac" stroke-width="2.95" stroke-linecap="round"/><line x1="6.59" y1="15.69" x2="6.05" y2="15.01" stroke="#d9a194" stroke-width="2.80" stroke-linecap="round"/><line x1="6.05" y1="15.01" x2="5.58" y2="14.23" stroke="#cf8c7b" stroke-width="2.66" stroke-linecap="round"/><line x1="5.58" y1="14.23" x2="5.20" y2="13.38" stroke="#c67663" stroke-width="2.51" stroke-linecap="round"/><line x1="5.20" y1="13.38" x2="4.92" y2="12.46" stroke="#c4705c" stroke-width="2.36" stroke-linecap="round"/><line x1="4.92" y1="12.46" x2="4.76" y2="11.48" stroke="#c4705c" stroke-width="2.22" stroke-linecap="round"/><line x1="4.76" y1="11.48" x2="4.71" y2="10.46" stroke="#c4705c" stroke-width="2.07" stroke-linecap="round"/></g></g>
<text transform="translate(41.5,486.8) scale(1.25,1.05)" x="0" y="0" text-anchor="middle" style="font-family:'Liberation Serif',serif;font-weight:bold;font-size:15px" fill="#111">−3</text>
<line x1="76.1" y1="397.6" x2="76.1" y2="439.5" stroke="#8e3c28" stroke-width="2.8"/>
<g transform="translate(63.1,439.2)"><rect x="0.4" y="0.4" width="25.2" height="24.7" fill="#342a28" stroke="#b45c40" stroke-width="0.9"/><circle cx="13" cy="12.75" r="10.4" fill="none" stroke="#6a4238" stroke-width="1.3" opacity="0.5" filter="url(#fb)"/><circle cx="13" cy="12.75" r="8.8" fill="none" stroke="#1c1514" stroke-width="1.6" opacity="0.6" filter="url(#fb)"/><g filter="url(#fb2)" opacity="0.55"><line x1="11.03" y1="14.88" x2="10.52" y2="14.73" stroke="#a05a48" stroke-width="5"/><line x1="10.52" y1="14.73" x2="10.01" y2="14.47" stroke="#a05a48" stroke-width="5"/><line x1="10.01" y1="14.47" x2="9.53" y2="14.11" stroke="#a05a48" stroke-width="5"/><line x1="9.53" y1="14.11" x2="9.10" y2="13.63" stroke="#a05a48" stroke-width="5"/><line x1="9.10" y1="13.63" x2="8.74" y2="13.06" stroke="#a05a48" stroke-width="5"/><line x1="8.74" y1="13.06" x2="8.46" y2="12.40" stroke="#a05a48" stroke-width="5"/><line x1="8.46" y1="12.40" x2="8.30" y2="11.66" stroke="#a05a48" stroke-width="5"/><line x1="8.30" y1="11.66" x2="8.26" y2="10.87" stroke="#a05a48" stroke-width="5"/><line x1="8.26" y1="10.87" x2="8.36" y2="10.04" stroke="#a05a48" stroke-width="5"/><line x1="8.36" y1="10.04" x2="8.60" y2="9.21" stroke="#a05a48" stroke-width="5"/><line x1="8.60" y1="9.21" x2="8.99" y2="8.39" stroke="#a05a48" stroke-width="5"/><line x1="8.99" y1="8.39" x2="9.53" y2="7.61" stroke="#a05a48" stroke-width="5"/><line x1="9.53" y1="7.61" x2="10.22" y2="6.90" stroke="#a05a48" stroke-width="5"/><line x1="10.22" y1="6.90" x2="11.05" y2="6.29" stroke="#a05a48" stroke-width="5"/><line x1="11.05" y1="6.29" x2="12.00" y2="5.80" stroke="#a05a48" stroke-width="5"/><line x1="12.00" y1="5.80" x2="13.05" y2="5.45" stroke="#a05a48" stroke-width="5"/><line x1="13.05" y1="5.45" x2="14.18" y2="5.27" stroke="#a05a48" stroke-width="5"/><line x1="14.18" y1="5.27" x2="15.37" y2="5.27" stroke="#a05a48" stroke-width="5"/><line x1="15.37" y1="5.27" x2="16.58" y2="5.46" stroke="#a05a48" stroke-width="5"/><line x1="16.58" y1="5.46" x2="17.79" y2="5.85" stroke="#a05a48" stroke-width="5"/><line x1="14.97" y1="10.62" x2="15.48" y2="10.77" stroke="#a05a48" stroke-width="5"/><line x1="15.48" y1="10.77" x2="15.99" y2="11.03" stroke="#a05a48" stroke-width="5"/><line x1="15.99" y1="11.03" x2="16.47" y2="11.39" stroke="#a05a48" stroke-width="5"/><line x1="16.47" y1="11.39" x2="16.90" y2="11.87" stroke="#a05a48" stroke-width="5"/><line x1="16.90" y1="11.87" x2="17.26" y2="12.44" stroke="#a05a48" stroke-width="5"/><line x1="17.26" y1="12.44" x2="17.54" y2="13.10" stroke="#a05a48" stroke-width="5"/><line x1="17.54" y1="13.10" x2="17.70" y2="13.84" stroke="#a05a48" stroke-width="5"/><line x1="17.70" y1="13.84" x2="17.74" y2="14.63" stroke="#a05a48" stroke-width="5"/><line x1="17.74" y1="14.63" x2="17.64" y2="15.46" stroke="#a05a48" stroke-width="5"/><line x1="17.64" y1="15.46" x2="17.40" y2="16.29" stroke="#a05a48" stroke-width="5"/><line x1="17.40" y1="16.29" x2="17.01" y2="17.11" stroke="#a05a48" stroke-width="5"/><line x1="17.01" y1="17.11" x2="16.47" y2="17.89" stroke="#a05a48" stroke-width="5"/><line x1="16.47" y1="17.89" x2="15.78" y2="18.60" stroke="#a05a48" stroke-width="5"/><line x1="15.78" y1="18.60" x2="14.95" y2="19.21" stroke="#a05a48" stroke-width="5"/><line x1="14.95" y1="19.21" x2="14.00" y2="19.70" stroke="#a05a48" stroke-width="5"/><line x1="14.00" y1="19.70" x2="12.95" y2="20.05" stroke="#a05a48" stroke-width="5"/><line x1="12.95" y1="20.05" x2="11.82" y2="20.23" stroke="#a05a48" stroke-width="5"/><line x1="11.82" y1="20.23" x2="10.63" y2="20.23" stroke="#a05a48" stroke-width="5"/><line x1="10.63" y1="20.23" x2="9.42" y2="20.04" stroke="#a05a48" stroke-width="5"/><line x1="9.42" y1="20.04" x2="8.21" y2="19.65" stroke="#a05a48" stroke-width="5"/></g><g filter="url(#fm)"><line x1="12.73" y1="14.53" x2="12.39" y2="14.73" stroke="#67423b" stroke-width="1.75" stroke-linecap="round"/><line x1="12.39" y1="14.73" x2="11.98" y2="14.87" stroke="#83645d" stroke-width="2.05" stroke-linecap="round"/><line x1="11.98" y1="14.87" x2="11.52" y2="14.92" stroke="#9e857f" stroke-width="2.35" stroke-linecap="round"/><line x1="11.52" y1="14.92" x2="11.03" y2="14.88" stroke="#baa6a2" stroke-width="2.65" stroke-linecap="round"/><line x1="11.03" y1="14.88" x2="10.52" y2="14.73" stroke="#d5c8c4" stroke-width="2.95" stroke-linecap="round"/><line x1="10.52" y1="14.73" x2="10.01" y2="14.47" stroke="#f1e9e6" stroke-width="3.25" stroke-linecap="round"/><line x1="10.01" y1="14.47" x2="9.53" y2="14.11" stroke="#fffaf8" stroke-width="3.40" stroke-linecap="round"/><line x1="9.53" y1="14.11" x2="9.10" y2="13.63" stroke="#fffaf8" stroke-width="3.40" stroke-linecap="round"/><line x1="9.10" y1="13.63" x2="8.74" y2="13.06" stroke="#fffaf8" stroke-width="3.40" stroke-linecap="round"/><line x1="8.74" y1="13.06" x2="8.46" y2="12.40" stroke="#fffaf8" stroke-width="3.40" stroke-linecap="round"/><line x1="8.46" y1="12.40" x2="8.30" y2="11.66" stroke="#fffaf8" stroke-width="3.40" stroke-linecap="round"/><line x1="8.30" y1="11.66" x2="8.26" y2="10.87" stroke="#fffaf8" stroke-width="3.40" stroke-linecap="round"/><line x1="8.26" y1="10.87" x2="8.36" y2="10.04" stroke="#fffaf8" stroke-width="3.40" stroke-linecap="round"/><line x1="8.36" y1="10.04" x2="8.60" y2="9.21" stroke="#fffaf8" stroke-width="3.40" stroke-linecap="round"/><line x1="8.60" y1="9.21" x2="8.99" y2="8.39" stroke="#fef7f5" stroke-width="3.39" stroke-linecap="round"/><line x1="8.99" y1="8.39" x2="9.53" y2="7.61" stroke="#f4e2dd" stroke-width="3.24" stroke-linecap="round"/><line x1="9.53" y1="7.61" x2="10.22" y2="6.90" stroke="#ebccc4" stroke-width="3.09" stroke-linecap="round"/><line x1="10.22" y1="6.90" x2="11.05" y2="6.29" stroke="#e2b7ac" stroke-width="2.95" stroke-linecap="round"/><line x1="11.05" y1="6.29" x2="12.00" y2="5.80" stroke="#d9a194" stroke-width="2.80" stroke-linecap="round"/><line x1="12.00" y1="5.80" x2="13.05" y2="5.45" stroke="#cf8c7b" stroke-width="2.66" stroke-linecap="round"/><line x1="13.05" y1="5.45" x2="14.18" y2="5.27" stroke="#c67663" stroke-width="2.51" stroke-linecap="round"/><line x1="14.18" y1="5.27" x2="15.37" y2="5.27" stroke="#c4705c" stroke-width="2.36" stroke-linecap="round"/><line x1="15.37" y1="5.27" x2="16.58" y2="5.46" stroke="#c4705c" stroke-width="2.22" stroke-linecap="round"/><line x1="16.58" y1="5.46" x2="17.79" y2="5.85" stroke="#c4705c" stroke-width="2.07" stroke-linecap="round"/><line x1="13.27" y1="10.97" x2="13.61" y2="10.77" stroke="#67423b" stroke-width="1.75" stroke-linecap="round"/><line x1="13.61" y1="10.77" x2="14.02" y2="10.63" stroke="#83645d" stroke-width="2.05" stroke-linecap="round"/><line x1="14.02" y1="10.63" x2="14.48" y2="10.58" stroke="#9e857f" stroke-width="2.35" stroke-linecap="round"/><line x1="14.48" y1="10.58" x2="14.97" y2="10.62" stroke="#baa6a2" stroke-width="2.65" stroke-linecap="round"/><line x1="14.97" y1="10.62" x2="15.48" y2="10.77" stroke="#d5c8c4" stroke-width="2.95" stroke-linecap="round"/><line x1="15.48" y1="10.77" x2="15.99" y2="11.03" stroke="#f1e9e6" stroke-width="3.25" stroke-linecap="round"/><line x1="15.99" y1="11.03" x2="16.47" y2="11.39" stroke="#fffaf8" stroke-width="3.40" stroke-linecap="round"/><line x1="16.47" y1="11.39" x2="16.90" y2="11.87" stroke="#fffaf8" stroke-width="3.40" stroke-linecap="round"/><line x1="16.90" y1="11.87" x2="17.26" y2="12.44" stroke="#fffaf8" stroke-width="3.40" stroke-linecap="round"/><line x1="17.26" y1="12.44" x2="17.54" y2="13.10" stroke="#fffaf8" stroke-width="3.40" stroke-linecap="round"/><line x1="17.54" y1="13.10" x2="17.70" y2="13.84" stroke="#fffaf8" stroke-width="3.40" stroke-linecap="round"/><line x1="17.70" y1="13.84" x2="17.74" y2="14.63" stroke="#fffaf8" stroke-width="3.40" stroke-linecap="round"/><line x1="17.74" y1="14.63" x2="17.64" y2="15.46" stroke="#fffaf8" stroke-width="3.40" stroke-linecap="round"/><line x1="17.64" y1="15.46" x2="17.40" y2="16.29" stroke="#fffaf8" stroke-width="3.40" stroke-linecap="round"/><line x1="17.40" y1="16.29" x2="17.01" y2="17.11" stroke="#fef7f5" stroke-width="3.39" stroke-linecap="round"/><line x1="17.01" y1="17.11" x2="16.47" y2="17.89" stroke="#f4e2dd" stroke-width="3.24" stroke-linecap="round"/><line x1="16.47" y1="17.89" x2="15.78" y2="18.60" stroke="#ebccc4" stroke-width="3.09" stroke-linecap="round"/><line x1="15.78" y1="18.60" x2="14.95" y2="19.21" stroke="#e2b7ac" stroke-width="2.95" stroke-linecap="round"/><line x1="14.95" y1="19.21" x2="14.00" y2="19.70" stroke="#d9a194" stroke-width="2.80" stroke-linecap="round"/><line x1="14.00" y1="19.70" x2="12.95" y2="20.05" stroke="#cf8c7b" stroke-width="2.66" stroke-linecap="round"/><line x1="12.95" y1="20.05" x2="11.82" y2="20.23" stroke="#c67663" stroke-width="2.51" stroke-linecap="round"/><line x1="11.82" y1="20.23" x2="10.63" y2="20.23" stroke="#c4705c" stroke-width="2.36" stroke-linecap="round"/><line x1="10.63" y1="20.23" x2="9.42" y2="20.04" stroke="#c4705c" stroke-width="2.22" stroke-linecap="round"/><line x1="9.42" y1="20.04" x2="8.21" y2="19.65" stroke="#c4705c" stroke-width="2.07" stroke-linecap="round"/></g></g>
<text transform="translate(75.1,486.8) scale(1.25,1.05)" x="0" y="0" text-anchor="middle" style="font-family:'Liberation Serif',serif;font-weight:bold;font-size:15px" fill="#111">−2</text>
<line x1="109.7" y1="364.2" x2="109.7" y2="439.5" stroke="#8e3c28" stroke-width="2.8"/>
<g transform="translate(96.7,439.2)"><rect x="0.4" y="0.4" width="25.2" height="24.7" fill="#342a28" stroke="#b45c40" stroke-width="0.9"/><circle cx="13" cy="12.75" r="10.4" fill="none" stroke="#6a4238" stroke-width="1.3" opacity="0.5" filter="url(#fb)"/><circle cx="13" cy="12.75" r="8.8" fill="none" stroke="#1c1514" stroke-width="1.6" opacity="0.6" filter="url(#fb)"/><g filter="url(#fb2)" opacity="0.55"><line x1="11.53" y1="10.89" x2="11.82" y2="10.37" stroke="#a05a48" stroke-width="5"/><line x1="11.82" y1="10.37" x2="12.27" y2="9.89" stroke="#a05a48" stroke-width="5"/><line x1="12.27" y1="9.89" x2="12.86" y2="9.51" stroke="#a05a48" stroke-width="5"/><line x1="12.86" y1="9.51" x2="13.58" y2="9.27" stroke="#a05a48" stroke-width="5"/><line x1="13.58" y1="9.27" x2="14.40" y2="9.19" stroke="#a05a48" stroke-width="5"/><line x1="14.40" y1="9.19" x2="15.26" y2="9.31" stroke="#a05a48" stroke-width="5"/><line x1="15.26" y1="9.31" x2="16.13" y2="9.65" stroke="#a05a48" stroke-width="5"/><line x1="16.13" y1="9.65" x2="16.95" y2="10.21" stroke="#a05a48" stroke-width="5"/><line x1="16.95" y1="10.21" x2="17.67" y2="10.98" stroke="#a05a48" stroke-width="5"/><line x1="17.67" y1="10.98" x2="18.22" y2="11.93" stroke="#a05a48" stroke-width="5"/><line x1="18.22" y1="11.93" x2="18.57" y2="13.05" stroke="#a05a48" stroke-width="5"/><line x1="18.57" y1="13.05" x2="18.67" y2="14.27" stroke="#a05a48" stroke-width="5"/><line x1="18.67" y1="14.27" x2="18.49" y2="15.54" stroke="#a05a48" stroke-width="5"/><line x1="18.49" y1="15.54" x2="18.02" y2="16.80" stroke="#a05a48" stroke-width="5"/><line x1="18.02" y1="16.80" x2="17.26" y2="17.97" stroke="#a05a48" stroke-width="5"/><line x1="17.26" y1="17.97" x2="16.22" y2="19.00" stroke="#a05a48" stroke-width="5"/><line x1="16.22" y1="19.00" x2="14.94" y2="19.81" stroke="#a05a48" stroke-width="5"/><line x1="14.94" y1="19.81" x2="13.45" y2="20.35" stroke="#a05a48" stroke-width="5"/><line x1="13.45" y1="20.35" x2="11.83" y2="20.57" stroke="#a05a48" stroke-width="5"/><line x1="11.83" y1="20.57" x2="10.13" y2="20.43" stroke="#a05a48" stroke-width="5"/></g><g filter="url(#fm)"><line x1="11.80" y1="12.67" x2="11.57" y2="12.34" stroke="#67423b" stroke-width="1.75" stroke-linecap="round"/><line x1="11.57" y1="12.34" x2="11.42" y2="11.92" stroke="#83645d" stroke-width="2.05" stroke-linecap="round"/><line x1="11.42" y1="11.92" x2="11.41" y2="11.42" stroke="#9e857f" stroke-width="2.35" stroke-linecap="round"/><line x1="11.41" y1="11.42" x2="11.53" y2="10.89" stroke="#baa6a2" stroke-width="2.65" stroke-linecap="round"/><line x1="11.53" y1="10.89" x2="11.82" y2="10.37" stroke="#d5c8c4" stroke-width="2.95" stroke-linecap="round"/><line x1="11.82" y1="10.37" x2="12.27" y2="9.89" stroke="#f1e9e6" stroke-width="3.25" stroke-linecap="round"/><line x1="12.27" y1="9.89" x2="12.86" y2="9.51" stroke="#fffaf8" stroke-width="3.40" stroke-linecap="round"/><line x1="12.86" y1="9.51" x2="13.58" y2="9.27" stroke="#fffaf8" stroke-width="3.40" stroke-linecap="round"/><line x1="13.58" y1="9.27" x2="14.40" y2="9.19" stroke="#fffaf8" stroke-width="3.40" stroke-linecap="round"/><line x1="14.40" y1="9.19" x2="15.26" y2="9.31" stroke="#fffaf8" stroke-width="3.40" stroke-linecap="round"/><line x1="15.26" y1="9.31" x2="16.13" y2="9.65" stroke="#fffaf8" stroke-width="3.40" stroke-linecap="round"/><line x1="16.13" y1="9.65" x2="16.95" y2="10.21" stroke="#fffaf8" stroke-width="3.40" stroke-linecap="round"/><line x1="16.95" y1="10.21" x2="17.67" y2="10.98" stroke="#fffaf8" stroke-width="3.40" stroke-linecap="round"/><line x1="17.67" y1="10.98" x2="18.22" y2="11.93" stroke="#fffaf8" stroke-width="3.40" stroke-linecap="round"/><line x1="18.22" y1="11.93" x2="18.57" y2="13.05" stroke="#fef7f5" stroke-width="3.39" stroke-linecap="round"/><line x1="18.57" y1="13.05" x2="18.67" y2="14.27" stroke="#f4e2dd" stroke-width="3.24" stroke-linecap="round"/><line x1="18.67" y1="14.27" x2="18.49" y2="15.54" stroke="#ebccc4" stroke-width="3.09" stroke-linecap="round"/><line x1="18.49" y1="15.54" x2="18.02" y2="16.80" stroke="#e2b7ac" stroke-width="2.95" stroke-linecap="round"/><line x1="18.02" y1="16.80" x2="17.26" y2="17.97" stroke="#d9a194" stroke-width="2.80" stroke-linecap="round"/><line x1="17.26" y1="17.97" x2="16.22" y2="19.00" stroke="#cf8c7b" stroke-width="2.66" stroke-linecap="round"/><line x1="16.22" y1="19.00" x2="14.94" y2="19.81" stroke="#c67663" stroke-width="2.51" stroke-linecap="round"/><line x1="14.94" y1="19.81" x2="13.45" y2="20.35" stroke="#c4705c" stroke-width="2.36" stroke-linecap="round"/><line x1="13.45" y1="20.35" x2="11.83" y2="20.57" stroke="#c4705c" stroke-width="2.22" stroke-linecap="round"/><line x1="11.83" y1="20.57" x2="10.13" y2="20.43" stroke="#c4705c" stroke-width="2.07" stroke-linecap="round"/></g></g>
<text transform="translate(108.7,486.8) scale(1.25,1.05)" x="0" y="0" text-anchor="middle" style="font-family:'Liberation Serif',serif;font-weight:bold;font-size:15px" fill="#111">−1</text>
<line x1="143.3" y1="325.5" x2="143.3" y2="439.5" stroke="#8e3c28" stroke-width="2.8"/>
<g transform="translate(130.3,439.2)"><rect x="0.4" y="0.4" width="25.2" height="24.7" fill="#342a28" stroke="#b45c40" stroke-width="0.9"/><circle cx="13" cy="12.75" r="10.4" fill="none" stroke="#6a4238" stroke-width="1.3" opacity="0.5" filter="url(#fb)"/><rect x="1" y="1" width="24" height="23.5" fill="#221c1b"/><circle cx="13" cy="12.75" r="9.6" fill="none" stroke="#4a3430" stroke-width="1.4" opacity="0.7" filter="url(#fb)"/><circle cx="13" cy="12.75" r="4.8" fill="#a8624c" filter="url(#fb2)"/><circle cx="13" cy="12.75" r="3.0" fill="#fff" filter="url(#fb)"/></g>
<text transform="translate(142.3,486.8) scale(1.25,1.05)" x="0" y="0" text-anchor="middle" style="font-family:'Liberation Serif',serif;font-weight:bold;font-size:15px" fill="#111">0</text>
<line x1="176.9" y1="360.8" x2="176.9" y2="439.5" stroke="#8e3c28" stroke-width="2.8"/>
<g transform="translate(163.9,439.2)"><rect x="0.4" y="0.4" width="25.2" height="24.7" fill="#342a28" stroke="#b45c40" stroke-width="0.9"/><circle cx="13" cy="12.75" r="10.4" fill="none" stroke="#6a4238" stroke-width="1.3" opacity="0.5" filter="url(#fb)"/><circle cx="13" cy="12.75" r="8.8" fill="none" stroke="#1c1514" stroke-width="1.6" opacity="0.6" filter="url(#fb)"/><g filter="url(#fb2)" opacity="0.55"><line x1="14.47" y1="10.89" x2="14.18" y2="10.37" stroke="#a05a48" stroke-width="5"/><line x1="14.18" y1="10.37" x2="13.73" y2="9.89" stroke="#a05a48" stroke-width="5"/><line x1="13.73" y1="9.89" x2="13.14" y2="9.51" stroke="#a05a48" stroke-width="5"/><line x1="13.14" y1="9.51" x2="12.42" y2="9.27" stroke="#a05a48" stroke-width="5"/><line x1="12.42" y1="9.27" x2="11.60" y2="9.19" stroke="#a05a48" stroke-width="5"/><line x1="11.60" y1="9.19" x2="10.74" y2="9.31" stroke="#a05a48" stroke-width="5"/><line x1="10.74" y1="9.31" x2="9.87" y2="9.65" stroke="#a05a48" stroke-width="5"/><line x1="9.87" y1="9.65" x2="9.05" y2="10.21" stroke="#a05a48" stroke-width="5"/><line x1="9.05" y1="10.21" x2="8.33" y2="10.98" stroke="#a05a48" stroke-width="5"/><line x1="8.33" y1="10.98" x2="7.78" y2="11.93" stroke="#a05a48" stroke-width="5"/><line x1="7.78" y1="11.93" x2="7.43" y2="13.05" stroke="#a05a48" stroke-width="5"/><line x1="7.43" y1="13.05" x2="7.33" y2="14.27" stroke="#a05a48" stroke-width="5"/><line x1="7.33" y1="14.27" x2="7.51" y2="15.54" stroke="#a05a48" stroke-width="5"/><line x1="7.51" y1="15.54" x2="7.98" y2="16.80" stroke="#a05a48" stroke-width="5"/><line x1="7.98" y1="16.80" x2="8.74" y2="17.97" stroke="#a05a48" stroke-width="5"/><line x1="8.74" y1="17.97" x2="9.78" y2="19.00" stroke="#a05a48" stroke-width="5"/><line x1="9.78" y1="19.00" x2="11.06" y2="19.81" stroke="#a05a48" stroke-width="5"/><line x1="11.06" y1="19.81" x2="12.55" y2="20.35" stroke="#a05a48" stroke-width="5"/><line x1="12.55" y1="20.35" x2="14.17" y2="20.57" stroke="#a05a48" stroke-width="5"/><line x1="14.17" y1="20.57" x2="15.87" y2="20.43" stroke="#a05a48" stroke-width="5"/></g><g filter="url(#fm)"><line x1="14.20" y1="12.67" x2="14.43" y2="12.34" stroke="#67423b" stroke-width="1.75" stroke-linecap="round"/><line x1="14.43" y1="12.34" x2="14.58" y2="11.92" stroke="#83645d" stroke-width="2.05" stroke-linecap="round"/><line x1="14.58" y1="11.92" x2="14.59" y2="11.42" stroke="#9e857f" stroke-width="2.35" stroke-linecap="round"/><line x1="14.59" y1="11.42" x2="14.47" y2="10.89" stroke="#baa6a2" stroke-width="2.65" stroke-linecap="round"/><line x1="14.47" y1="10.89" x2="14.18" y2="10.37" stroke="#d5c8c4" stroke-width="2.95" stroke-linecap="round"/><line x1="14.18" y1="10.37" x2="13.73" y2="9.89" stroke="#f1e9e6" stroke-width="3.25" stroke-linecap="round"/><line x1="13.73" y1="9.89" x2="13.14" y2="9.51" stroke="#fffaf8" stroke-width="3.40" stroke-linecap="round"/><line x1="13.14" y1="9.51" x2="12.42" y2="9.27" stroke="#fffaf8" stroke-width="3.40" stroke-linecap="round"/><line x1="12.42" y1="9.27" x2="11.60" y2="9.19" stroke="#fffaf8" stroke-width="3.40" stroke-linecap="round"/><line x1="11.60" y1="9.19" x2="10.74" y2="9.31" stroke="#fffaf8" stroke-width="3.40" stroke-linecap="round"/><line x1="10.74" y1="9.31" x2="9.87" y2="9.65" stroke="#fffaf8" stroke-width="3.40" stroke-linecap="round"/><line x1="9.87" y1="9.65" x2="9.05" y2="10.21" stroke="#fffaf8" stroke-width="3.40" stroke-linecap="round"/><line x1="9.05" y1="10.21" x2="8.33" y2="10.98" stroke="#fffaf8" stroke-width="3.40" stroke-linecap="round"/><line x1="8.33" y1="10.98" x2="7.78" y2="11.93" stroke="#fffaf8" stroke-width="3.40" stroke-linecap="round"/><line x1="7.78" y1="11.93" x2="7.43" y2="13.05" stroke="#fef7f5" stroke-width="3.39" stroke-linecap="round"/><line x1="7.43" y1="13.05" x2="7.33" y2="14.27" stroke="#f4e2dd" stroke-width="3.24" stroke-linecap="round"/><line x1="7.33" y1="14.27" x2="7.51" y2="15.54" stroke="#ebccc4" stroke-width="3.09" stroke-linecap="round"/><line x1="7.51" y1="15.54" x2="7.98" y2="16.80" stroke="#e2b7ac" stroke-width="2.95" stroke-linecap="round"/><line x1="7.98" y1="16.80" x2="8.74" y2="17.97" stroke="#d9a194" stroke-width="2.80" stroke-linecap="round"/><line x1="8.74" y1="17.97" x2="9.78" y2="19.00" stroke="#cf8c7b" stroke-width="2.66" stroke-linecap="round"/><line x1="9.78" y1="19.00" x2="11.06" y2="19.81" stroke="#c67663" stroke-width="2.51" stroke-linecap="round"/><line x1="11.06" y1="19.81" x2="12.55" y2="20.35" stroke="#c4705c" stroke-width="2.36" stroke-linecap="round"/><line x1="12.55" y1="20.35" x2="14.17" y2="20.57" stroke="#c4705c" stroke-width="2.22" stroke-linecap="round"/><line x1="14.17" y1="20.57" x2="15.87" y2="20.43" stroke="#c4705c" stroke-width="2.07" stroke-linecap="round"/></g></g>
<text transform="translate(175.9,486.8) scale(1.25,1.05)" x="0" y="0" text-anchor="middle" style="font-family:'Liberation Serif',serif;font-weight:bold;font-size:15px" fill="#111">+1</text>
<line x1="210.5" y1="396.8" x2="210.5" y2="439.5" stroke="#8e3c28" stroke-width="2.8"/>
<g transform="translate(197.5,439.2)"><rect x="0.4" y="0.4" width="25.2" height="24.7" fill="#342a28" stroke="#b45c40" stroke-width="0.9"/><circle cx="13" cy="12.75" r="10.4" fill="none" stroke="#6a4238" stroke-width="1.3" opacity="0.5" filter="url(#fb)"/><circle cx="13" cy="12.75" r="8.8" fill="none" stroke="#1c1514" stroke-width="1.6" opacity="0.6" filter="url(#fb)"/><g filter="url(#fb2)" opacity="0.55"><line x1="14.97" y1="14.88" x2="15.48" y2="14.73" stroke="#a05a48" stroke-width="5"/><line x1="15.48" y1="14.73" x2="15.99" y2="14.47" stroke="#a05a48" stroke-width="5"/><line x1="15.99" y1="14.47" x2="16.47" y2="14.11" stroke="#a05a48" stroke-width="5"/><line x1="16.47" y1="14.11" x2="16.90" y2="13.63" stroke="#a05a48" stroke-width="5"/><line x1="16.90" y1="13.63" x2="17.26" y2="13.06" stroke="#a05a48" stroke-width="5"/><line x1="17.26" y1="13.06" x2="17.54" y2="12.40" stroke="#a05a48" stroke-width="5"/><line x1="17.54" y1="12.40" x2="17.70" y2="11.66" stroke="#a05a48" stroke-width="5"/><line x1="17.70" y1="11.66" x2="17.74" y2="10.87" stroke="#a05a48" stroke-width="5"/><line x1="17.74" y1="10.87" x2="17.64" y2="10.04" stroke="#a05a48" stroke-width="5"/><line x1="17.64" y1="10.04" x2="17.40" y2="9.21" stroke="#a05a48" stroke-width="5"/><line x1="17.40" y1="9.21" x2="17.01" y2="8.39" stroke="#a05a48" stroke-width="5"/><line x1="17.01" y1="8.39" x2="16.47" y2="7.61" stroke="#a05a48" stroke-width="5"/><line x1="16.47" y1="7.61" x2="15.78" y2="6.90" stroke="#a05a48" stroke-width="5"/><line x1="15.78" y1="6.90" x2="14.95" y2="6.29" stroke="#a05a48" stroke-width="5"/><line x1="14.95" y1="6.29" x2="14.00" y2="5.80" stroke="#a05a48" stroke-width="5"/><line x1="14.00" y1="5.80" x2="12.95" y2="5.45" stroke="#a05a48" stroke-width="5"/><line x1="12.95" y1="5.45" x2="11.82" y2="5.27" stroke="#a05a48" stroke-width="5"/><line x1="11.82" y1="5.27" x2="10.63" y2="5.27" stroke="#a05a48" stroke-width="5"/><line x1="10.63" y1="5.27" x2="9.42" y2="5.46" stroke="#a05a48" stroke-width="5"/><line x1="9.42" y1="5.46" x2="8.21" y2="5.85" stroke="#a05a48" stroke-width="5"/><line x1="11.03" y1="10.62" x2="10.52" y2="10.77" stroke="#a05a48" stroke-width="5"/><line x1="10.52" y1="10.77" x2="10.01" y2="11.03" stroke="#a05a48" stroke-width="5"/><line x1="10.01" y1="11.03" x2="9.53" y2="11.39" stroke="#a05a48" stroke-width="5"/><line x1="9.53" y1="11.39" x2="9.10" y2="11.87" stroke="#a05a48" stroke-width="5"/><line x1="9.10" y1="11.87" x2="8.74" y2="12.44" stroke="#a05a48" stroke-width="5"/><line x1="8.74" y1="12.44" x2="8.46" y2="13.10" stroke="#a05a48" stroke-width="5"/><line x1="8.46" y1="13.10" x2="8.30" y2="13.84" stroke="#a05a48" stroke-width="5"/><line x1="8.30" y1="13.84" x2="8.26" y2="14.63" stroke="#a05a48" stroke-width="5"/><line x1="8.26" y1="14.63" x2="8.36" y2="15.46" stroke="#a05a48" stroke-width="5"/><line x1="8.36" y1="15.46" x2="8.60" y2="16.29" stroke="#a05a48" stroke-width="5"/><line x1="8.60" y1="16.29" x2="8.99" y2="17.11" stroke="#a05a48" stroke-width="5"/><line x1="8.99" y1="17.11" x2="9.53" y2="17.89" stroke="#a05a48" stroke-width="5"/><line x1="9.53" y1="17.89" x2="10.22" y2="18.60" stroke="#a05a48" stroke-width="5"/><line x1="10.22" y1="18.60" x2="11.05" y2="19.21" stroke="#a05a48" stroke-width="5"/><line x1="11.05" y1="19.21" x2="12.00" y2="19.70" stroke="#a05a48" stroke-width="5"/><line x1="12.00" y1="19.70" x2="13.05" y2="20.05" stroke="#a05a48" stroke-width="5"/><line x1="13.05" y1="20.05" x2="14.18" y2="20.23" stroke="#a05a48" stroke-width="5"/><line x1="14.18" y1="20.23" x2="15.37" y2="20.23" stroke="#a05a48" stroke-width="5"/><line x1="15.37" y1="20.23" x2="16.58" y2="20.04" stroke="#a05a48" stroke-width="5"/><line x1="16.58" y1="20.04" x2="17.79" y2="19.65" stroke="#a05a48" stroke-width="5"/></g><g filter="url(#fm)"><line x1="13.27" y1="14.53" x2="13.61" y2="14.73" stroke="#67423b" stroke-width="1.75" stroke-linecap="round"/><line x1="13.61" y1="14.73" x2="14.02" y2="14.87" stroke="#83645d" stroke-width="2.05" stroke-linecap="round"/><line x1="14.02" y1="14.87" x2="14.48" y2="14.92" stroke="#9e857f" stroke-width="2.35" stroke-linecap="round"/><line x1="14.48" y1="14.92" x2="14.97" y2="14.88" stroke="#baa6a2" stroke-width="2.65" stroke-linecap="round"/><line x1="14.97" y1="14.88" x2="15.48" y2="14.73" stroke="#d5c8c4" stroke-width="2.95" stroke-linecap="round"/><line x1="15.48" y1="14.73" x2="15.99" y2="14.47" stroke="#f1e9e6" stroke-width="3.25" stroke-linecap="round"/><line x1="15.99" y1="14.47" x2="16.47" y2="14.11" stroke="#fffaf8" stroke-width="3.40" stroke-linecap="round"/><line x1="16.47" y1="14.11" x2="16.90" y2="13.63" stroke="#fffaf8" stroke-width="3.40" stroke-linecap="round"/><line x1="16.90" y1="13.63" x2="17.26" y2="13.06" stroke="#fffaf8" stroke-width="3.40" stroke-linecap="round"/><line x1="17.26" y1="13.06" x2="17.54" y2="12.40" stroke="#fffaf8" stroke-width="3.40" stroke-linecap="round"/><line x1="17.54" y1="12.40" x2="17.70" y2="11.66" stroke="#fffaf8" stroke-width="3.40" stroke-linecap="round"/><line x1="17.70" y1="11.66" x2="17.74" y2="10.87" stroke="#fffaf8" stroke-width="3.40" stroke-linecap="round"/><line x1="17.74" y1="10.87" x2="17.64" y2="10.04" stroke="#fffaf8" stroke-width="3.40" stroke-linecap="round"/><line x1="17.64" y1="10.04" x2="17.40" y2="9.21" stroke="#fffaf8" stroke-width="3.40" stroke-linecap="round"/><line x1="17.40" y1="9.21" x2="17.01" y2="8.39" stroke="#fef7f5" stroke-width="3.39" stroke-linecap="round"/><line x1="17.01" y1="8.39" x2="16.47" y2="7.61" stroke="#f4e2dd" stroke-width="3.24" stroke-linecap="round"/><line x1="16.47" y1="7.61" x2="15.78" y2="6.90" stroke="#ebccc4" stroke-width="3.09" stroke-linecap="round"/><line x1="15.78" y1="6.90" x2="14.95" y2="6.29" stroke="#e2b7ac" stroke-width="2.95" stroke-linecap="round"/><line x1="14.95" y1="6.29" x2="14.00" y2="5.80" stroke="#d9a194" stroke-width="2.80" stroke-linecap="round"/><line x1="14.00" y1="5.80" x2="12.95" y2="5.45" stroke="#cf8c7b" stroke-width="2.66" stroke-linecap="round"/><line x1="12.95" y1="5.45" x2="11.82" y2="5.27" stroke="#c67663" stroke-width="2.51" stroke-linecap="round"/><line x1="11.82" y1="5.27" x2="10.63" y2="5.27" stroke="#c4705c" stroke-width="2.36" stroke-linecap="round"/><line x1="10.63" y1="5.27" x2="9.42" y2="5.46" stroke="#c4705c" stroke-width="2.22" stroke-linecap="round"/><line x1="9.42" y1="5.46" x2="8.21" y2="5.85" stroke="#c4705c" stroke-width="2.07" stroke-linecap="round"/><line x1="12.73" y1="10.97" x2="12.39" y2="10.77" stroke="#67423b" stroke-width="1.75" stroke-linecap="round"/><line x1="12.39" y1="10.77" x2="11.98" y2="10.63" stroke="#83645d" stroke-width="2.05" stroke-linecap="round"/><line x1="11.98" y1="10.63" x2="11.52" y2="10.58" stroke="#9e857f" stroke-width="2.35" stroke-linecap="round"/><line x1="11.52" y1="10.58" x2="11.03" y2="10.62" stroke="#baa6a2" stroke-width="2.65" stroke-linecap="round"/><line x1="11.03" y1="10.62" x2="10.52" y2="10.77" stroke="#d5c8c4" stroke-width="2.95" stroke-linecap="round"/><line x1="10.52" y1="10.77" x2="10.01" y2="11.03" stroke="#f1e9e6" stroke-width="3.25" stroke-linecap="round"/><line x1="10.01" y1="11.03" x2="9.53" y2="11.39" stroke="#fffaf8" stroke-width="3.40" stroke-linecap="round"/><line x1="9.53" y1="11.39" x2="9.10" y2="11.87" stroke="#fffaf8" stroke-width="3.40" stroke-linecap="round"/><line x1="9.10" y1="11.87" x2="8.74" y2="12.44" stroke="#fffaf8" stroke-width="3.40" stroke-linecap="round"/><line x1="8.74" y1="12.44" x2="8.46" y2="13.10" stroke="#fffaf8" stroke-width="3.40" stroke-linecap="round"/><line x1="8.46" y1="13.10" x2="8.30" y2="13.84" stroke="#fffaf8" stroke-width="3.40" stroke-linecap="round"/><line x1="8.30" y1="13.84" x2="8.26" y2="14.63" stroke="#fffaf8" stroke-width="3.40" stroke-linecap="round"/><line x1="8.26" y1="14.63" x2="8.36" y2="15.46" stroke="#fffaf8" stroke-width="3.40" stroke-linecap="round"/><line x1="8.36" y1="15.46" x2="8.60" y2="16.29" stroke="#fffaf8" stroke-width="3.40" stroke-linecap="round"/><line x1="8.60" y1="16.29" x2="8.99" y2="17.11" stroke="#fef7f5" stroke-width="3.39" stroke-linecap="round"/><line x1="8.99" y1="17.11" x2="9.53" y2="17.89" stroke="#f4e2dd" stroke-width="3.24" stroke-linecap="round"/><line x1="9.53" y1="17.89" x2="10.22" y2="18.60" stroke="#ebccc4" stroke-width="3.09" stroke-linecap="round"/><line x1="10.22" y1="18.60" x2="11.05" y2="19.21" stroke="#e2b7ac" stroke-width="2.95" stroke-linecap="round"/><line x1="11.05" y1="19.21" x2="12.00" y2="19.70" stroke="#d9a194" stroke-width="2.80" stroke-linecap="round"/><line x1="12.00" y1="19.70" x2="13.05" y2="20.05" stroke="#cf8c7b" stroke-width="2.66" stroke-linecap="round"/><line x1="13.05" y1="20.05" x2="14.18" y2="20.23" stroke="#c67663" stroke-width="2.51" stroke-linecap="round"/><line x1="14.18" y1="20.23" x2="15.37" y2="20.23" stroke="#c4705c" stroke-width="2.36" stroke-linecap="round"/><line x1="15.37" y1="20.23" x2="16.58" y2="20.04" stroke="#c4705c" stroke-width="2.22" stroke-linecap="round"/><line x1="16.58" y1="20.04" x2="17.79" y2="19.65" stroke="#c4705c" stroke-width="2.07" stroke-linecap="round"/></g></g>
<text transform="translate(209.5,486.8) scale(1.25,1.05)" x="0" y="0" text-anchor="middle" style="font-family:'Liberation Serif',serif;font-weight:bold;font-size:15px" fill="#111">+2</text>
<line x1="244.1" y1="420.2" x2="244.1" y2="439.5" stroke="#8e3c28" stroke-width="2.8"/>
<g transform="translate(231.1,439.2)"><rect x="0.4" y="0.4" width="25.2" height="24.7" fill="#342a28" stroke="#b45c40" stroke-width="0.9"/><circle cx="13" cy="12.75" r="10.4" fill="none" stroke="#6a4238" stroke-width="1.3" opacity="0.5" filter="url(#fb)"/><circle cx="13" cy="12.75" r="8.8" fill="none" stroke="#1c1514" stroke-width="1.6" opacity="0.6" filter="url(#fb)"/><g filter="url(#fb2)" opacity="0.55"><line x1="16.43" y1="12.65" x2="16.65" y2="12.21" stroke="#a05a48" stroke-width="5"/><line x1="16.65" y1="12.21" x2="16.81" y2="11.72" stroke="#a05a48" stroke-width="5"/><line x1="16.81" y1="11.72" x2="16.91" y2="11.19" stroke="#a05a48" stroke-width="5"/><line x1="16.91" y1="11.19" x2="16.93" y2="10.62" stroke="#a05a48" stroke-width="5"/><line x1="16.93" y1="10.62" x2="16.86" y2="10.03" stroke="#a05a48" stroke-width="5"/><line x1="16.86" y1="10.03" x2="16.71" y2="9.43" stroke="#a05a48" stroke-width="5"/><line x1="16.71" y1="9.43" x2="16.47" y2="8.82" stroke="#a05a48" stroke-width="5"/><line x1="16.47" y1="8.82" x2="16.14" y2="8.23" stroke="#a05a48" stroke-width="5"/><line x1="16.14" y1="8.23" x2="15.71" y2="7.67" stroke="#a05a48" stroke-width="5"/><line x1="15.71" y1="7.67" x2="15.20" y2="7.15" stroke="#a05a48" stroke-width="5"/><line x1="15.20" y1="7.15" x2="14.60" y2="6.68" stroke="#a05a48" stroke-width="5"/><line x1="14.60" y1="6.68" x2="13.91" y2="6.28" stroke="#a05a48" stroke-width="5"/><line x1="13.91" y1="6.28" x2="13.16" y2="5.96" stroke="#a05a48" stroke-width="5"/><line x1="13.16" y1="5.96" x2="12.35" y2="5.73" stroke="#a05a48" stroke-width="5"/><line x1="12.35" y1="5.73" x2="11.48" y2="5.60" stroke="#a05a48" stroke-width="5"/><line x1="11.48" y1="5.60" x2="10.58" y2="5.58" stroke="#a05a48" stroke-width="5"/><line x1="10.58" y1="5.58" x2="9.65" y2="5.68" stroke="#a05a48" stroke-width="5"/><line x1="9.65" y1="5.68" x2="8.71" y2="5.90" stroke="#a05a48" stroke-width="5"/><line x1="8.71" y1="5.90" x2="7.78" y2="6.24" stroke="#a05a48" stroke-width="5"/><line x1="7.78" y1="6.24" x2="6.87" y2="6.71" stroke="#a05a48" stroke-width="5"/><line x1="11.19" y1="9.83" x2="10.71" y2="9.86" stroke="#a05a48" stroke-width="5"/><line x1="10.71" y1="9.86" x2="10.20" y2="9.96" stroke="#a05a48" stroke-width="5"/><line x1="10.20" y1="9.96" x2="9.69" y2="10.15" stroke="#a05a48" stroke-width="5"/><line x1="9.69" y1="10.15" x2="9.19" y2="10.41" stroke="#a05a48" stroke-width="5"/><line x1="9.19" y1="10.41" x2="8.71" y2="10.77" stroke="#a05a48" stroke-width="5"/><line x1="8.71" y1="10.77" x2="8.26" y2="11.20" stroke="#a05a48" stroke-width="5"/><line x1="8.26" y1="11.20" x2="7.86" y2="11.71" stroke="#a05a48" stroke-width="5"/><line x1="7.86" y1="11.71" x2="7.52" y2="12.29" stroke="#a05a48" stroke-width="5"/><line x1="7.52" y1="12.29" x2="7.24" y2="12.94" stroke="#a05a48" stroke-width="5"/><line x1="7.24" y1="12.94" x2="7.05" y2="13.65" stroke="#a05a48" stroke-width="5"/><line x1="7.05" y1="13.65" x2="6.95" y2="14.40" stroke="#a05a48" stroke-width="5"/><line x1="6.95" y1="14.40" x2="6.94" y2="15.19" stroke="#a05a48" stroke-width="5"/><line x1="6.94" y1="15.19" x2="7.04" y2="16.00" stroke="#a05a48" stroke-width="5"/><line x1="7.04" y1="16.00" x2="7.25" y2="16.83" stroke="#a05a48" stroke-width="5"/><line x1="7.25" y1="16.83" x2="7.57" y2="17.64" stroke="#a05a48" stroke-width="5"/><line x1="7.57" y1="17.64" x2="8.01" y2="18.43" stroke="#a05a48" stroke-width="5"/><line x1="8.01" y1="18.43" x2="8.55" y2="19.19" stroke="#a05a48" stroke-width="5"/><line x1="8.55" y1="19.19" x2="9.21" y2="19.89" stroke="#a05a48" stroke-width="5"/><line x1="9.21" y1="19.89" x2="9.98" y2="20.52" stroke="#a05a48" stroke-width="5"/><line x1="9.98" y1="20.52" x2="10.84" y2="21.07" stroke="#a05a48" stroke-width="5"/><line x1="11.37" y1="15.77" x2="11.64" y2="16.18" stroke="#a05a48" stroke-width="5"/><line x1="11.64" y1="16.18" x2="11.98" y2="16.57" stroke="#a05a48" stroke-width="5"/><line x1="11.98" y1="16.57" x2="12.40" y2="16.92" stroke="#a05a48" stroke-width="5"/><line x1="12.40" y1="16.92" x2="12.88" y2="17.22" stroke="#a05a48" stroke-width="5"/><line x1="12.88" y1="17.22" x2="13.43" y2="17.46" stroke="#a05a48" stroke-width="5"/><line x1="13.43" y1="17.46" x2="14.02" y2="17.63" stroke="#a05a48" stroke-width="5"/><line x1="14.02" y1="17.63" x2="14.67" y2="17.72" stroke="#a05a48" stroke-width="5"/><line x1="14.67" y1="17.72" x2="15.34" y2="17.73" stroke="#a05a48" stroke-width="5"/><line x1="15.34" y1="17.73" x2="16.04" y2="17.64" stroke="#a05a48" stroke-width="5"/><line x1="16.04" y1="17.64" x2="16.75" y2="17.45" stroke="#a05a48" stroke-width="5"/><line x1="16.75" y1="17.45" x2="17.46" y2="17.17" stroke="#a05a48" stroke-width="5"/><line x1="17.46" y1="17.17" x2="18.14" y2="16.78" stroke="#a05a48" stroke-width="5"/><line x1="18.14" y1="16.78" x2="18.80" y2="16.28" stroke="#a05a48" stroke-width="5"/><line x1="18.80" y1="16.28" x2="19.41" y2="15.69" stroke="#a05a48" stroke-width="5"/><line x1="19.41" y1="15.69" x2="19.95" y2="15.01" stroke="#a05a48" stroke-width="5"/><line x1="19.95" y1="15.01" x2="20.42" y2="14.23" stroke="#a05a48" stroke-width="5"/><line x1="20.42" y1="14.23" x2="20.80" y2="13.38" stroke="#a05a48" stroke-width="5"/><line x1="20.80" y1="13.38" x2="21.08" y2="12.46" stroke="#a05a48" stroke-width="5"/><line x1="21.08" y1="12.46" x2="21.24" y2="11.48" stroke="#a05a48" stroke-width="5"/><line x1="21.24" y1="11.48" x2="21.29" y2="10.46" stroke="#a05a48" stroke-width="5"/></g><g filter="url(#fm)"><line x1="15.18" y1="13.76" x2="15.52" y2="13.59" stroke="#67423b" stroke-width="1.75" stroke-linecap="round"/><line x1="15.52" y1="13.59" x2="15.86" y2="13.34" stroke="#83645d" stroke-width="2.05" stroke-linecap="round"/><line x1="15.86" y1="13.34" x2="16.16" y2="13.02" stroke="#9e857f" stroke-width="2.35" stroke-linecap="round"/><line x1="16.16" y1="13.02" x2="16.43" y2="12.65" stroke="#baa6a2" stroke-width="2.65" stroke-linecap="round"/><line x1="16.43" y1="12.65" x2="16.65" y2="12.21" stroke="#d5c8c4" stroke-width="2.95" stroke-linecap="round"/><line x1="16.65" y1="12.21" x2="16.81" y2="11.72" stroke="#f1e9e6" stroke-width="3.25" stroke-linecap="round"/><line x1="16.81" y1="11.72" x2="16.91" y2="11.19" stroke="#fffaf8" stroke-width="3.40" stroke-linecap="round"/><line x1="16.91" y1="11.19" x2="16.93" y2="10.62" stroke="#fffaf8" stroke-width="3.40" stroke-linecap="round"/><line x1="16.93" y1="10.62" x2="16.86" y2="10.03" stroke="#fffaf8" stroke-width="3.40" stroke-linecap="round"/><line x1="16.86" y1="10.03" x2="16.71" y2="9.43" stroke="#fffaf8" stroke-width="3.40" stroke-linecap="round"/><line x1="16.71" y1="9.43" x2="16.47" y2="8.82" stroke="#fffaf8" stroke-width="3.40" stroke-linecap="round"/><line x1="16.47" y1="8.82" x2="16.14" y2="8.23" stroke="#fffaf8" stroke-width="3.40" stroke-linecap="round"/><line x1="16.14" y1="8.23" x2="15.71" y2="7.67" stroke="#fffaf8" stroke-width="3.40" stroke-linecap="round"/><line x1="15.71" y1="7.67" x2="15.20" y2="7.15" stroke="#fffaf8" stroke-width="3.40" stroke-linecap="round"/><line x1="15.20" y1="7.15" x2="14.60" y2="6.68" stroke="#fef7f5" stroke-width="3.39" stroke-linecap="round"/><line x1="14.60" y1="6.68" x2="13.91" y2="6.28" stroke="#f4e2dd" stroke-width="3.24" stroke-linecap="round"/><line x1="13.91" y1="6.28" x2="13.16" y2="5.96" stroke="#ebccc4" stroke-width="3.09" stroke-linecap="round"/><line x1="13.16" y1="5.96" x2="12.35" y2="5.73" stroke="#e2b7ac" stroke-width="2.95" stroke-linecap="round"/><line x1="12.35" y1="5.73" x2="11.48" y2="5.60" stroke="#d9a194" stroke-width="2.80" stroke-linecap="round"/><line x1="11.48" y1="5.60" x2="10.58" y2="5.58" stroke="#cf8c7b" stroke-width="2.66" stroke-linecap="round"/><line x1="10.58" y1="5.58" x2="9.65" y2="5.68" stroke="#c67663" stroke-width="2.51" stroke-linecap="round"/><line x1="9.65" y1="5.68" x2="8.71" y2="5.90" stroke="#c4705c" stroke-width="2.36" stroke-linecap="round"/><line x1="8.71" y1="5.90" x2="7.78" y2="6.24" stroke="#c4705c" stroke-width="2.22" stroke-linecap="round"/><line x1="7.78" y1="6.24" x2="6.87" y2="6.71" stroke="#c4705c" stroke-width="2.07" stroke-linecap="round"/><line x1="12.79" y1="10.36" x2="12.46" y2="10.15" stroke="#67423b" stroke-width="1.75" stroke-linecap="round"/><line x1="12.46" y1="10.15" x2="12.08" y2="9.98" stroke="#83645d" stroke-width="2.05" stroke-linecap="round"/><line x1="12.08" y1="9.98" x2="11.66" y2="9.87" stroke="#9e857f" stroke-width="2.35" stroke-linecap="round"/><line x1="11.66" y1="9.87" x2="11.19" y2="9.83" stroke="#baa6a2" stroke-width="2.65" stroke-linecap="round"/><line x1="11.19" y1="9.83" x2="10.71" y2="9.86" stroke="#d5c8c4" stroke-width="2.95" stroke-linecap="round"/><line x1="10.71" y1="9.86" x2="10.20" y2="9.96" stroke="#f1e9e6" stroke-width="3.25" stroke-linecap="round"/><line x1="10.20" y1="9.96" x2="9.69" y2="10.15" stroke="#fffaf8" stroke-width="3.40" stroke-linecap="round"/><line x1="9.69" y1="10.15" x2="9.19" y2="10.41" stroke="#fffaf8" stroke-width="3.40" stroke-linecap="round"/><line x1="9.19" y1="10.41" x2="8.71" y2="10.77" stroke="#fffaf8" stroke-width="3.40" stroke-linecap="round"/><line x1="8.71" y1="10.77" x2="8.26" y2="11.20" stroke="#fffaf8" stroke-width="3.40" stroke-linecap="round"/><line x1="8.26" y1="11.20" x2="7.86" y2="11.71" stroke="#fffaf8" stroke-width="3.40" stroke-linecap="round"/><line x1="7.86" y1="11.71" x2="7.52" y2="12.29" stroke="#fffaf8" stroke-width="3.40" stroke-linecap="round"/><line x1="7.52" y1="12.29" x2="7.24" y2="12.94" stroke="#fffaf8" stroke-width="3.40" stroke-linecap="round"/><line x1="7.24" y1="12.94" x2="7.05" y2="13.65" stroke="#fffaf8" stroke-width="3.40" stroke-linecap="round"/><line x1="7.05" y1="13.65" x2="6.95" y2="14.40" stroke="#fef7f5" stroke-width="3.39" stroke-linecap="round"/><line x1="6.95" y1="14.40" x2="6.94" y2="15.19" stroke="#f4e2dd" stroke-width="3.24" stroke-linecap="round"/><line x1="6.94" y1="15.19" x2="7.04" y2="16.00" stroke="#ebccc4" stroke-width="3.09" stroke-linecap="round"/><line x1="7.04" y1="16.00" x2="7.25" y2="16.83" stroke="#e2b7ac" stroke-width="2.95" stroke-linecap="round"/><line x1="7.25" y1="16.83" x2="7.57" y2="17.64" stroke="#d9a194" stroke-width="2.80" stroke-linecap="round"/><line x1="7.57" y1="17.64" x2="8.01" y2="18.43" stroke="#cf8c7b" stroke-width="2.66" stroke-linecap="round"/><line x1="8.01" y1="18.43" x2="8.55" y2="19.19" stroke="#c67663" stroke-width="2.51" stroke-linecap="round"/><line x1="8.55" y1="19.19" x2="9.21" y2="19.89" stroke="#c4705c" stroke-width="2.36" stroke-linecap="round"/><line x1="9.21" y1="19.89" x2="9.98" y2="20.52" stroke="#c4705c" stroke-width="2.22" stroke-linecap="round"/><line x1="9.98" y1="20.52" x2="10.84" y2="21.07" stroke="#c4705c" stroke-width="2.07" stroke-linecap="round"/><line x1="11.03" y1="14.13" x2="11.01" y2="14.52" stroke="#67423b" stroke-width="1.75" stroke-linecap="round"/><line x1="11.01" y1="14.52" x2="11.06" y2="14.93" stroke="#83645d" stroke-width="2.05" stroke-linecap="round"/><line x1="11.06" y1="14.93" x2="11.18" y2="15.35" stroke="#9e857f" stroke-width="2.35" stroke-linecap="round"/><line x1="11.18" y1="15.35" x2="11.37" y2="15.77" stroke="#baa6a2" stroke-width="2.65" stroke-linecap="round"/><line x1="11.37" y1="15.77" x2="11.64" y2="16.18" stroke="#d5c8c4" stroke-width="2.95" stroke-linecap="round"/><line x1="11.64" y1="16.18" x2="11.98" y2="16.57" stroke="#f1e9e6" stroke-width="3.25" stroke-linecap="round"/><line x1="11.98" y1="16.57" x2="12.40" y2="16.92" stroke="#fffaf8" stroke-width="3.40" stroke-linecap="round"/><line x1="12.40" y1="16.92" x2="12.88" y2="17.22" stroke="#fffaf8" stroke-width="3.40" stroke-linecap="round"/><line x1="12.88" y1="17.22" x2="13.43" y2="17.46" stroke="#fffaf8" stroke-width="3.40" stroke-linecap="round"/><line x1="13.43" y1="17.46" x2="14.02" y2="17.63" stroke="#fffaf8" stroke-width="3.40" stroke-linecap="round"/><line x1="14.02" y1="17.63" x2="14.67" y2="17.72" stroke="#fffaf8" stroke-width="3.40" stroke-linecap="round"/><line x1="14.67" y1="17.72" x2="15.34" y2="17.73" stroke="#fffaf8" stroke-width="3.40" stroke-linecap="round"/><line x1="15.34" y1="17.73" x2="16.04" y2="17.64" stroke="#fffaf8" stroke-width="3.40" stroke-linecap="round"/><line x1="16.04" y1="17.64" x2="16.75" y2="17.45" stroke="#fffaf8" stroke-width="3.40" stroke-linecap="round"/><line x1="16.75" y1="17.45" x2="17.46" y2="17.17" stroke="#fef7f5" stroke-width="3.39" stroke-linecap="round"/><line x1="17.46" y1="17.17" x2="18.14" y2="16.78" stroke="#f4e2dd" stroke-width="3.24" stroke-linecap="round"/><line x1="18.14" y1="16.78" x2="18.80" y2="16.28" stroke="#ebccc4" stroke-width="3.09" stroke-linecap="round"/><line x1="18.80" y1="16.28" x2="19.41" y2="15.69" stroke="#e2b7ac" stroke-width="2.95" stroke-linecap="round"/><line x1="19.41" y1="15.69" x2="19.95" y2="15.01" stroke="#d9a194" stroke-width="2.80" stroke-linecap="round"/><line x1="19.95" y1="15.01" x2="20.42" y2="14.23" stroke="#cf8c7b" stroke-width="2.66" stroke-linecap="round"/><line x1="20.42" y1="14.23" x2="20.80" y2="13.38" stroke="#c67663" stroke-width="2.51" stroke-linecap="round"/><line x1="20.80" y1="13.38" x2="21.08" y2="12.46" stroke="#c4705c" stroke-width="2.36" stroke-linecap="round"/><line x1="21.08" y1="12.46" x2="21.24" y2="11.48" stroke="#c4705c" stroke-width="2.22" stroke-linecap="round"/><line x1="21.24" y1="11.48" x2="21.29" y2="10.46" stroke="#c4705c" stroke-width="2.07" stroke-linecap="round"/></g></g>
<text transform="translate(243.1,486.8) scale(1.25,1.05)" x="0" y="0" text-anchor="middle" style="font-family:'Liberation Serif',serif;font-weight:bold;font-size:15px" fill="#111">+3</text>
<line x1="332.1" y1="355.2" x2="332.1" y2="439.5" stroke="#304b6c" stroke-width="2.8"/>
<g transform="translate(319.1,439.2)"><rect x="0.4" y="0.4" width="25.2" height="24.7" fill="#342a28" stroke="#b45c40" stroke-width="0.9"/><circle cx="13" cy="12.75" r="10.4" fill="none" stroke="#6a4238" stroke-width="1.3" opacity="0.5" filter="url(#fb)"/><circle cx="13" cy="12.75" r="8.8" fill="none" stroke="#1c1514" stroke-width="1.6" opacity="0.6" filter="url(#fb)"/><g filter="url(#fb2)" opacity="0.55"><line x1="9.57" y1="12.65" x2="9.35" y2="12.21" stroke="#a05a48" stroke-width="5"/><line x1="9.35" y1="12.21" x2="9.19" y2="11.72" stroke="#a05a48" stroke-width="5"/><line x1="9.19" y1="11.72" x2="9.09" y2="11.19" stroke="#a05a48" stroke-width="5"/><line x1="9.09" y1="11.19" x2="9.07" y2="10.62" stroke="#a05a48" stroke-width="5"/><line x1="9.07" y1="10.62" x2="9.14" y2="10.03" stroke="#a05a48" stroke-width="5"/><line x1="9.14" y1="10.03" x2="9.29" y2="9.43" stroke="#a05a48" stroke-width="5"/><line x1="9.29" y1="9.43" x2="9.53" y2="8.82" stroke="#a05a48" stroke-width="5"/><line x1="9.53" y1="8.82" x2="9.86" y2="8.23" stroke="#a05a48" stroke-width="5"/><line x1="9.86" y1="8.23" x2="10.29" y2="7.67" stroke="#a05a48" stroke-width="5"/><line x1="10.29" y1="7.67" x2="10.80" y2="7.15" stroke="#a05a48" stroke-width="5"/><line x1="10.80" y1="7.15" x2="11.40" y2="6.68" stroke="#a05a48" stroke-width="5"/><line x1="11.40" y1="6.68" x2="12.09" y2="6.28" stroke="#a05a48" stroke-width="5"/><line x1="12.09" y1="6.28" x2="12.84" y2="5.96" stroke="#a05a48" stroke-width="5"/><line x1="12.84" y1="5.96" x2="13.65" y2="5.73" stroke="#a05a48" stroke-width="5"/><line x1="13.65" y1="5.73" x2="14.52" y2="5.60" stroke="#a05a48" stroke-width="5"/><line x1="14.52" y1="5.60" x2="15.42" y2="5.58" stroke="#a05a48" stroke-width="5"/><line x1="15.42" y1="5.58" x2="16.35" y2="5.68" stroke="#a05a48" stroke-width="5"/><line x1="16.35" y1="5.68" x2="17.29" y2="5.90" stroke="#a05a48" stroke-width="5"/><line x1="17.29" y1="5.90" x2="18.22" y2="6.24" stroke="#a05a48" stroke-width="5"/><line x1="18.22" y1="6.24" x2="19.13" y2="6.71" stroke="#a05a48" stroke-width="5"/><line x1="14.81" y1="9.83" x2="15.29" y2="9.86" stroke="#a05a48" stroke-width="5"/><line x1="15.29" y1="9.86" x2="15.80" y2="9.96" stroke="#a05a48" stroke-width="5"/><line x1="15.80" y1="9.96" x2="16.31" y2="10.15" stroke="#a05a48" stroke-width="5"/><line x1="16.31" y1="10.15" x2="16.81" y2="10.41" stroke="#a05a48" stroke-width="5"/><line x1="16.81" y1="10.41" x2="17.29" y2="10.77" stroke="#a05a48" stroke-width="5"/><line x1="17.29" y1="10.77" x2="17.74" y2="11.20" stroke="#a05a48" stroke-width="5"/><line x1="17.74" y1="11.20" x2="18.14" y2="11.71" stroke="#a05a48" stroke-width="5"/><line x1="18.14" y1="11.71" x2="18.48" y2="12.29" stroke="#a05a48" stroke-width="5"/><line x1="18.48" y1="12.29" x2="18.76" y2="12.94" stroke="#a05a48" stroke-width="5"/><line x1="18.76" y1="12.94" x2="18.95" y2="13.65" stroke="#a05a48" stroke-width="5"/><line x1="18.95" y1="13.65" x2="19.05" y2="14.40" stroke="#a05a48" stroke-width="5"/><line x1="19.05" y1="14.40" x2="19.06" y2="15.19" stroke="#a05a48" stroke-width="5"/><line x1="19.06" y1="15.19" x2="18.96" y2="16.00" stroke="#a05a48" stroke-width="5"/><line x1="18.96" y1="16.00" x2="18.75" y2="16.83" stroke="#a05a48" stroke-width="5"/><line x1="18.75" y1="16.83" x2="18.43" y2="17.64" stroke="#a05a48" stroke-width="5"/><line x1="18.43" y1="17.64" x2="17.99" y2="18.43" stroke="#a05a48" stroke-width="5"/><line x1="17.99" y1="18.43" x2="17.45" y2="19.19" stroke="#a05a48" stroke-width="5"/><line x1="17.45" y1="19.19" x2="16.79" y2="19.89" stroke="#a05a48" stroke-width="5"/><line x1="16.79" y1="19.89" x2="16.02" y2="20.52" stroke="#a05a48" stroke-width="5"/><line x1="16.02" y1="20.52" x2="15.16" y2="21.07" stroke="#a05a48" stroke-width="5"/><line x1="14.63" y1="15.77" x2="14.36" y2="16.18" stroke="#a05a48" stroke-width="5"/><line x1="14.36" y1="16.18" x2="14.02" y2="16.57" stroke="#a05a48" stroke-width="5"/><line x1="14.02" y1="16.57" x2="13.60" y2="16.92" stroke="#a05a48" stroke-width="5"/><line x1="13.60" y1="16.92" x2="13.12" y2="17.22" stroke="#a05a48" stroke-width="5"/><line x1="13.12" y1="17.22" x2="12.57" y2="17.46" stroke="#a05a48" stroke-width="5"/><line x1="12.57" y1="17.46" x2="11.98" y2="17.63" stroke="#a05a48" stroke-width="5"/><line x1="11.98" y1="17.63" x2="11.33" y2="17.72" stroke="#a05a48" stroke-width="5"/><line x1="11.33" y1="17.72" x2="10.66" y2="17.73" stroke="#a05a48" stroke-width="5"/><line x1="10.66" y1="17.73" x2="9.96" y2="17.64" stroke="#a05a48" stroke-width="5"/><line x1="9.96" y1="17.64" x2="9.25" y2="17.45" stroke="#a05a48" stroke-width="5"/><line x1="9.25" y1="17.45" x2="8.54" y2="17.17" stroke="#a05a48" stroke-width="5"/><line x1="8.54" y1="17.17" x2="7.86" y2="16.78" stroke="#a05a48" stroke-width="5"/><line x1="7.86" y1="16.78" x2="7.20" y2="16.28" stroke="#a05a48" stroke-width="5"/><line x1="7.20" y1="16.28" x2="6.59" y2="15.69" stroke="#a05a48" stroke-width="5"/><line x1="6.59" y1="15.69" x2="6.05" y2="15.01" stroke="#a05a48" stroke-width="5"/><line x1="6.05" y1="15.01" x2="5.58" y2="14.23" stroke="#a05a48" stroke-width="5"/><line x1="5.58" y1="14.23" x2="5.20" y2="13.38" stroke="#a05a48" stroke-width="5"/><line x1="5.20" y1="13.38" x2="4.92" y2="12.46" stroke="#a05a48" stroke-width="5"/><line x1="4.92" y1="12.46" x2="4.76" y2="11.48" stroke="#a05a48" stroke-width="5"/><line x1="4.76" y1="11.48" x2="4.71" y2="10.46" stroke="#a05a48" stroke-width="5"/></g><g filter="url(#fm)"><line x1="10.82" y1="13.76" x2="10.48" y2="13.59" stroke="#67423b" stroke-width="1.75" stroke-linecap="round"/><line x1="10.48" y1="13.59" x2="10.14" y2="13.34" stroke="#83645d" stroke-width="2.05" stroke-linecap="round"/><line x1="10.14" y1="13.34" x2="9.84" y2="13.02" stroke="#9e857f" stroke-width="2.35" stroke-linecap="round"/><line x1="9.84" y1="13.02" x2="9.57" y2="12.65" stroke="#baa6a2" stroke-width="2.65" stroke-linecap="round"/><line x1="9.57" y1="12.65" x2="9.35" y2="12.21" stroke="#d5c8c4" stroke-width="2.95" stroke-linecap="round"/><line x1="9.35" y1="12.21" x2="9.19" y2="11.72" stroke="#f1e9e6" stroke-width="3.25" stroke-linecap="round"/><line x1="9.19" y1="11.72" x2="9.09" y2="11.19" stroke="#fffaf8" stroke-width="3.40" stroke-linecap="round"/><line x1="9.09" y1="11.19" x2="9.07" y2="10.62" stroke="#fffaf8" stroke-width="3.40" stroke-linecap="round"/><line x1="9.07" y1="10.62" x2="9.14" y2="10.03" stroke="#fffaf8" stroke-width="3.40" stroke-linecap="round"/><line x1="9.14" y1="10.03" x2="9.29" y2="9.43" stroke="#fffaf8" stroke-width="3.40" stroke-linecap="round"/><line x1="9.29" y1="9.43" x2="9.53" y2="8.82" stroke="#fffaf8" stroke-width="3.40" stroke-linecap="round"/><line x1="9.53" y1="8.82" x2="9.86" y2="8.23" stroke="#fffaf8" stroke-width="3.40" stroke-linecap="round"/><line x1="9.86" y1="8.23" x2="10.29" y2="7.67" stroke="#fffaf8" stroke-width="3.40" stroke-linecap="round"/><line x1="10.29" y1="7.67" x2="10.80" y2="7.15" stroke="#fffaf8" stroke-width="3.40" stroke-linecap="round"/><line x1="10.80" y1="7.15" x2="11.40" y2="6.68" stroke="#fef7f5" stroke-width="3.39" stroke-linecap="round"/><line x1="11.40" y1="6.68" x2="12.09" y2="6.28" stroke="#f4e2dd" stroke-width="3.24" stroke-linecap="round"/><line x1="12.09" y1="6.28" x2="12.84" y2="5.96" stroke="#ebccc4" stroke-width="3.09" stroke-linecap="round"/><line x1="12.84" y1="5.96" x2="13.65" y2="5.73" stroke="#e2b7ac" stroke-width="2.95" stroke-linecap="round"/><line x1="13.65" y1="5.73" x2="14.52" y2="5.60" stroke="#d9a194" stroke-width="2.80" stroke-linecap="round"/><line x1="14.52" y1="5.60" x2="15.42" y2="5.58" stroke="#cf8c7b" stroke-width="2.66" stroke-linecap="round"/><line x1="15.42" y1="5.58" x2="16.35" y2="5.68" stroke="#c67663" stroke-width="2.51" stroke-linecap="round"/><line x1="16.35" y1="5.68" x2="17.29" y2="5.90" stroke="#c4705c" stroke-width="2.36" stroke-linecap="round"/><line x1="17.29" y1="5.90" x2="18.22" y2="6.24" stroke="#c4705c" stroke-width="2.22" stroke-linecap="round"/><line x1="18.22" y1="6.24" x2="19.13" y2="6.71" stroke="#c4705c" stroke-width="2.07" stroke-linecap="round"/><line x1="13.21" y1="10.36" x2="13.54" y2="10.15" stroke="#67423b" stroke-width="1.75" stroke-linecap="round"/><line x1="13.54" y1="10.15" x2="13.92" y2="9.98" stroke="#83645d" stroke-width="2.05" stroke-linecap="round"/><line x1="13.92" y1="9.98" x2="14.34" y2="9.87" stroke="#9e857f" stroke-width="2.35" stroke-linecap="round"/><line x1="14.34" y1="9.87" x2="14.81" y2="9.83" stroke="#baa6a2" stroke-width="2.65" stroke-linecap="round"/><line x1="14.81" y1="9.83" x2="15.29" y2="9.86" stroke="#d5c8c4" stroke-width="2.95" stroke-linecap="round"/><line x1="15.29" y1="9.86" x2="15.80" y2="9.96" stroke="#f1e9e6" stroke-width="3.25" stroke-linecap="round"/><line x1="15.80" y1="9.96" x2="16.31" y2="10.15" stroke="#fffaf8" stroke-width="3.40" stroke-linecap="round"/><line x1="16.31" y1="10.15" x2="16.81" y2="10.41" stroke="#fffaf8" stroke-width="3.40" stroke-linecap="round"/><line x1="16.81" y1="10.41" x2="17.29" y2="10.77" stroke="#fffaf8" stroke-width="3.40" stroke-linecap="round"/><line x1="17.29" y1="10.77" x2="17.74" y2="11.20" stroke="#fffaf8" stroke-width="3.40" stroke-linecap="round"/><line x1="17.74" y1="11.20" x2="18.14" y2="11.71" stroke="#fffaf8" stroke-width="3.40" stroke-linecap="round"/><line x1="18.14" y1="11.71" x2="18.48" y2="12.29" stroke="#fffaf8" stroke-width="3.40" stroke-linecap="round"/><line x1="18.48" y1="12.29" x2="18.76" y2="12.94" stroke="#fffaf8" stroke-width="3.40" stroke-linecap="round"/><line x1="18.76" y1="12.94" x2="18.95" y2="13.65" stroke="#fffaf8" stroke-width="3.40" stroke-linecap="round"/><line x1="18.95" y1="13.65" x2="19.05" y2="14.40" stroke="#fef7f5" stroke-width="3.39" stroke-linecap="round"/><line x1="19.05" y1="14.40" x2="19.06" y2="15.19" stroke="#f4e2dd" stroke-width="3.24" stroke-linecap="round"/><line x1="19.06" y1="15.19" x2="18.96" y2="16.00" stroke="#ebccc4" stroke-width="3.09" stroke-linecap="round"/><line x1="18.96" y1="16.00" x2="18.75" y2="16.83" stroke="#e2b7ac" stroke-width="2.95" stroke-linecap="round"/><line x1="18.75" y1="16.83" x2="18.43" y2="17.64" stroke="#d9a194" stroke-width="2.80" stroke-linecap="round"/><line x1="18.43" y1="17.64" x2="17.99" y2="18.43" stroke="#cf8c7b" stroke-width="2.66" stroke-linecap="round"/><line x1="17.99" y1="18.43" x2="17.45" y2="19.19" stroke="#c67663" stroke-width="2.51" stroke-linecap="round"/><line x1="17.45" y1="19.19" x2="16.79" y2="19.89" stroke="#c4705c" stroke-width="2.36" stroke-linecap="round"/><line x1="16.79" y1="19.89" x2="16.02" y2="20.52" stroke="#c4705c" stroke-width="2.22" stroke-linecap="round"/><line x1="16.02" y1="20.52" x2="15.16" y2="21.07" stroke="#c4705c" stroke-width="2.07" stroke-linecap="round"/><line x1="14.97" y1="14.13" x2="14.99" y2="14.52" stroke="#67423b" stroke-width="1.75" stroke-linecap="round"/><line x1="14.99" y1="14.52" x2="14.94" y2="14.93" stroke="#83645d" stroke-width="2.05" stroke-linecap="round"/><line x1="14.94" y1="14.93" x2="14.82" y2="15.35" stroke="#9e857f" stroke-width="2.35" stroke-linecap="round"/><line x1="14.82" y1="15.35" x2="14.63" y2="15.77" stroke="#baa6a2" stroke-width="2.65" stroke-linecap="round"/><line x1="14.63" y1="15.77" x2="14.36" y2="16.18" stroke="#d5c8c4" stroke-width="2.95" stroke-linecap="round"/><line x1="14.36" y1="16.18" x2="14.02" y2="16.57" stroke="#f1e9e6" stroke-width="3.25" stroke-linecap="round"/><line x1="14.02" y1="16.57" x2="13.60" y2="16.92" stroke="#fffaf8" stroke-width="3.40" stroke-linecap="round"/><line x1="13.60" y1="16.92" x2="13.12" y2="17.22" stroke="#fffaf8" stroke-width="3.40" stroke-linecap="round"/><line x1="13.12" y1="17.22" x2="12.57" y2="17.46" stroke="#fffaf8" stroke-width="3.40" stroke-linecap="round"/><line x1="12.57" y1="17.46" x2="11.98" y2="17.63" stroke="#fffaf8" stroke-width="3.40" stroke-linecap="round"/><line x1="11.98" y1="17.63" x2="11.33" y2="17.72" stroke="#fffaf8" stroke-width="3.40" stroke-linecap="round"/><line x1="11.33" y1="17.72" x2="10.66" y2="17.73" stroke="#fffaf8" stroke-width="3.40" stroke-linecap="round"/><line x1="10.66" y1="17.73" x2="9.96" y2="17.64" stroke="#fffaf8" stroke-width="3.40" stroke-linecap="round"/><line x1="9.96" y1="17.64" x2="9.25" y2="17.45" stroke="#fffaf8" stroke-width="3.40" stroke-linecap="round"/><line x1="9.25" y1="17.45" x2="8.54" y2="17.17" stroke="#fef7f5" stroke-width="3.39" stroke-linecap="round"/><line x1="8.54" y1="17.17" x2="7.86" y2="16.78" stroke="#f4e2dd" stroke-width="3.24" stroke-linecap="round"/><line x1="7.86" y1="16.78" x2="7.20" y2="16.28" stroke="#ebccc4" stroke-width="3.09" stroke-linecap="round"/><line x1="7.20" y1="16.28" x2="6.59" y2="15.69" stroke="#e2b7ac" stroke-width="2.95" stroke-linecap="round"/><line x1="6.59" y1="15.69" x2="6.05" y2="15.01" stroke="#d9a194" stroke-width="2.80" stroke-linecap="round"/><line x1="6.05" y1="15.01" x2="5.58" y2="14.23" stroke="#cf8c7b" stroke-width="2.66" stroke-linecap="round"/><line x1="5.58" y1="14.23" x2="5.20" y2="13.38" stroke="#c67663" stroke-width="2.51" stroke-linecap="round"/><line x1="5.20" y1="13.38" x2="4.92" y2="12.46" stroke="#c4705c" stroke-width="2.36" stroke-linecap="round"/><line x1="4.92" y1="12.46" x2="4.76" y2="11.48" stroke="#c4705c" stroke-width="2.22" stroke-linecap="round"/><line x1="4.76" y1="11.48" x2="4.71" y2="10.46" stroke="#c4705c" stroke-width="2.07" stroke-linecap="round"/></g></g>
<text transform="translate(331.1,486.8) scale(1.25,1.05)" x="0" y="0" text-anchor="middle" style="font-family:'Liberation Serif',serif;font-weight:bold;font-size:15px" fill="#111">−3</text>
<line x1="365.7" y1="357.6" x2="365.7" y2="439.5" stroke="#304b6c" stroke-width="2.8"/>
<g transform="translate(352.7,439.2)"><rect x="0.4" y="0.4" width="25.2" height="24.7" fill="#342a28" stroke="#b45c40" stroke-width="0.9"/><circle cx="13" cy="12.75" r="10.4" fill="none" stroke="#6a4238" stroke-width="1.3" opacity="0.5" filter="url(#fb)"/><circle cx="13" cy="12.75" r="8.8" fill="none" stroke="#1c1514" stroke-width="1.6" opacity="0.6" filter="url(#fb)"/><g filter="url(#fb2)" opacity="0.55"><line x1="11.03" y1="14.88" x2="10.52" y2="14.73" stroke="#a05a48" stroke-width="5"/><line x1="10.52" y1="14.73" x2="10.01" y2="14.47" stroke="#a05a48" stroke-width="5"/><line x1="10.01" y1="14.47" x2="9.53" y2="14.11" stroke="#a05a48" stroke-width="5"/><line x1="9.53" y1="14.11" x2="9.10" y2="13.63" stroke="#a05a48" stroke-width="5"/><line x1="9.10" y1="13.63" x2="8.74" y2="13.06" stroke="#a05a48" stroke-width="5"/><line x1="8.74" y1="13.06" x2="8.46" y2="12.40" stroke="#a05a48" stroke-width="5"/><line x1="8.46" y1="12.40" x2="8.30" y2="11.66" stroke="#a05a48" stroke-width="5"/><line x1="8.30" y1="11.66" x2="8.26" y2="10.87" stroke="#a05a48" stroke-width="5"/><line x1="8.26" y1="10.87" x2="8.36" y2="10.04" stroke="#a05a48" stroke-width="5"/><line x1="8.36" y1="10.04" x2="8.60" y2="9.21" stroke="#a05a48" stroke-width="5"/><line x1="8.60" y1="9.21" x2="8.99" y2="8.39" stroke="#a05a48" stroke-width="5"/><line x1="8.99" y1="8.39" x2="9.53" y2="7.61" stroke="#a05a48" stroke-width="5"/><line x1="9.53" y1="7.61" x2="10.22" y2="6.90" stroke="#a05a48" stroke-width="5"/><line x1="10.22" y1="6.90" x2="11.05" y2="6.29" stroke="#a05a48" stroke-width="5"/><line x1="11.05" y1="6.29" x2="12.00" y2="5.80" stroke="#a05a48" stroke-width="5"/><line x1="12.00" y1="5.80" x2="13.05" y2="5.45" stroke="#a05a48" stroke-width="5"/><line x1="13.05" y1="5.45" x2="14.18" y2="5.27" stroke="#a05a48" stroke-width="5"/><line x1="14.18" y1="5.27" x2="15.37" y2="5.27" stroke="#a05a48" stroke-width="5"/><line x1="15.37" y1="5.27" x2="16.58" y2="5.46" stroke="#a05a48" stroke-width="5"/><line x1="16.58" y1="5.46" x2="17.79" y2="5.85" stroke="#a05a48" stroke-width="5"/><line x1="14.97" y1="10.62" x2="15.48" y2="10.77" stroke="#a05a48" stroke-width="5"/><line x1="15.48" y1="10.77" x2="15.99" y2="11.03" stroke="#a05a48" stroke-width="5"/><line x1="15.99" y1="11.03" x2="16.47" y2="11.39" stroke="#a05a48" stroke-width="5"/><line x1="16.47" y1="11.39" x2="16.90" y2="11.87" stroke="#a05a48" stroke-width="5"/><line x1="16.90" y1="11.87" x2="17.26" y2="12.44" stroke="#a05a48" stroke-width="5"/><line x1="17.26" y1="12.44" x2="17.54" y2="13.10" stroke="#a05a48" stroke-width="5"/><line x1="17.54" y1="13.10" x2="17.70" y2="13.84" stroke="#a05a48" stroke-width="5"/><line x1="17.70" y1="13.84" x2="17.74" y2="14.63" stroke="#a05a48" stroke-width="5"/><line x1="17.74" y1="14.63" x2="17.64" y2="15.46" stroke="#a05a48" stroke-width="5"/><line x1="17.64" y1="15.46" x2="17.40" y2="16.29" stroke="#a05a48" stroke-width="5"/><line x1="17.40" y1="16.29" x2="17.01" y2="17.11" stroke="#a05a48" stroke-width="5"/><line x1="17.01" y1="17.11" x2="16.47" y2="17.89" stroke="#a05a48" stroke-width="5"/><line x1="16.47" y1="17.89" x2="15.78" y2="18.60" stroke="#a05a48" stroke-width="5"/><line x1="15.78" y1="18.60" x2="14.95" y2="19.21" stroke="#a05a48" stroke-width="5"/><line x1="14.95" y1="19.21" x2="14.00" y2="19.70" stroke="#a05a48" stroke-width="5"/><line x1="14.00" y1="19.70" x2="12.95" y2="20.05" stroke="#a05a48" stroke-width="5"/><line x1="12.95" y1="20.05" x2="11.82" y2="20.23" stroke="#a05a48" stroke-width="5"/><line x1="11.82" y1="20.23" x2="10.63" y2="20.23" stroke="#a05a48" stroke-width="5"/><line x1="10.63" y1="20.23" x2="9.42" y2="20.04" stroke="#a05a48" stroke-width="5"/><line x1="9.42" y1="20.04" x2="8.21" y2="19.65" stroke="#a05a48" stroke-width="5"/></g><g filter="url(#fm)"><line x1="12.73" y1="14.53" x2="12.39" y2="14.73" stroke="#67423b" stroke-width="1.75" stroke-linecap="round"/><line x1="12.39" y1="14.73" x2="11.98" y2="14.87" stroke="#83645d" stroke-width="2.05" stroke-linecap="round"/><line x1="11.98" y1="14.87" x2="11.52" y2="14.92" stroke="#9e857f" stroke-width="2.35" stroke-linecap="round"/><line x1="11.52" y1="14.92" x2="11.03" y2="14.88" stroke="#baa6a2" stroke-width="2.65" stroke-linecap="round"/><line x1="11.03" y1="14.88" x2="10.52" y2="14.73" stroke="#d5c8c4" stroke-width="2.95" stroke-linecap="round"/><line x1="10.52" y1="14.73" x2="10.01" y2="14.47" stroke="#f1e9e6" stroke-width="3.25" stroke-linecap="round"/><line x1="10.01" y1="14.47" x2="9.53" y2="14.11" stroke="#fffaf8" stroke-width="3.40" stroke-linecap="round"/><line x1="9.53" y1="14.11" x2="9.10" y2="13.63" stroke="#fffaf8" stroke-width="3.40" stroke-linecap="round"/><line x1="9.10" y1="13.63" x2="8.74" y2="13.06" stroke="#fffaf8" stroke-width="3.40" stroke-linecap="round"/><line x1="8.74" y1="13.06" x2="8.46" y2="12.40" stroke="#fffaf8" stroke-width="3.40" stroke-linecap="round"/><line x1="8.46" y1="12.40" x2="8.30" y2="11.66" stroke="#fffaf8" stroke-width="3.40" stroke-linecap="round"/><line x1="8.30" y1="11.66" x2="8.26" y2="10.87" stroke="#fffaf8" stroke-width="3.40" stroke-linecap="round"/><line x1="8.26" y1="10.87" x2="8.36" y2="10.04" stroke="#fffaf8" stroke-width="3.40" stroke-linecap="round"/><line x1="8.36" y1="10.04" x2="8.60" y2="9.21" stroke="#fffaf8" stroke-width="3.40" stroke-linecap="round"/><line x1="8.60" y1="9.21" x2="8.99" y2="8.39" stroke="#fef7f5" stroke-width="3.39" stroke-linecap="round"/><line x1="8.99" y1="8.39" x2="9.53" y2="7.61" stroke="#f4e2dd" stroke-width="3.24" stroke-linecap="round"/><line x1="9.53" y1="7.61" x2="10.22" y2="6.90" stroke="#ebccc4" stroke-width="3.09" stroke-linecap="round"/><line x1="10.22" y1="6.90" x2="11.05" y2="6.29" stroke="#e2b7ac" stroke-width="2.95" stroke-linecap="round"/><line x1="11.05" y1="6.29" x2="12.00" y2="5.80" stroke="#d9a194" stroke-width="2.80" stroke-linecap="round"/><line x1="12.00" y1="5.80" x2="13.05" y2="5.45" stroke="#cf8c7b" stroke-width="2.66" stroke-linecap="round"/><line x1="13.05" y1="5.45" x2="14.18" y2="5.27" stroke="#c67663" stroke-width="2.51" stroke-linecap="round"/><line x1="14.18" y1="5.27" x2="15.37" y2="5.27" stroke="#c4705c" stroke-width="2.36" stroke-linecap="round"/><line x1="15.37" y1="5.27" x2="16.58" y2="5.46" stroke="#c4705c" stroke-width="2.22" stroke-linecap="round"/><line x1="16.58" y1="5.46" x2="17.79" y2="5.85" stroke="#c4705c" stroke-width="2.07" stroke-linecap="round"/><line x1="13.27" y1="10.97" x2="13.61" y2="10.77" stroke="#67423b" stroke-width="1.75" stroke-linecap="round"/><line x1="13.61" y1="10.77" x2="14.02" y2="10.63" stroke="#83645d" stroke-width="2.05" stroke-linecap="round"/><line x1="14.02" y1="10.63" x2="14.48" y2="10.58" stroke="#9e857f" stroke-width="2.35" stroke-linecap="round"/><line x1="14.48" y1="10.58" x2="14.97" y2="10.62" stroke="#baa6a2" stroke-width="2.65" stroke-linecap="round"/><line x1="14.97" y1="10.62" x2="15.48" y2="10.77" stroke="#d5c8c4" stroke-width="2.95" stroke-linecap="round"/><line x1="15.48" y1="10.77" x2="15.99" y2="11.03" stroke="#f1e9e6" stroke-width="3.25" stroke-linecap="round"/><line x1="15.99" y1="11.03" x2="16.47" y2="11.39" stroke="#fffaf8" stroke-width="3.40" stroke-linecap="round"/><line x1="16.47" y1="11.39" x2="16.90" y2="11.87" stroke="#fffaf8" stroke-width="3.40" stroke-linecap="round"/><line x1="16.90" y1="11.87" x2="17.26" y2="12.44" stroke="#fffaf8" stroke-width="3.40" stroke-linecap="round"/><line x1="17.26" y1="12.44" x2="17.54" y2="13.10" stroke="#fffaf8" stroke-width="3.40" stroke-linecap="round"/><line x1="17.54" y1="13.10" x2="17.70" y2="13.84" stroke="#fffaf8" stroke-width="3.40" stroke-linecap="round"/><line x1="17.70" y1="13.84" x2="17.74" y2="14.63" stroke="#fffaf8" stroke-width="3.40" stroke-linecap="round"/><line x1="17.74" y1="14.63" x2="17.64" y2="15.46" stroke="#fffaf8" stroke-width="3.40" stroke-linecap="round"/><line x1="17.64" y1="15.46" x2="17.40" y2="16.29" stroke="#fffaf8" stroke-width="3.40" stroke-linecap="round"/><line x1="17.40" y1="16.29" x2="17.01" y2="17.11" stroke="#fef7f5" stroke-width="3.39" stroke-linecap="round"/><line x1="17.01" y1="17.11" x2="16.47" y2="17.89" stroke="#f4e2dd" stroke-width="3.24" stroke-linecap="round"/><line x1="16.47" y1="17.89" x2="15.78" y2="18.60" stroke="#ebccc4" stroke-width="3.09" stroke-linecap="round"/><line x1="15.78" y1="18.60" x2="14.95" y2="19.21" stroke="#e2b7ac" stroke-width="2.95" stroke-linecap="round"/><line x1="14.95" y1="19.21" x2="14.00" y2="19.70" stroke="#d9a194" stroke-width="2.80" stroke-linecap="round"/><line x1="14.00" y1="19.70" x2="12.95" y2="20.05" stroke="#cf8c7b" stroke-width="2.66" stroke-linecap="round"/><line x1="12.95" y1="20.05" x2="11.82" y2="20.23" stroke="#c67663" stroke-width="2.51" stroke-linecap="round"/><line x1="11.82" y1="20.23" x2="10.63" y2="20.23" stroke="#c4705c" stroke-width="2.36" stroke-linecap="round"/><line x1="10.63" y1="20.23" x2="9.42" y2="20.04" stroke="#c4705c" stroke-width="2.22" stroke-linecap="round"/><line x1="9.42" y1="20.04" x2="8.21" y2="19.65" stroke="#c4705c" stroke-width="2.07" stroke-linecap="round"/></g></g>
<text transform="translate(364.7,486.8) scale(1.25,1.05)" x="0" y="0" text-anchor="middle" style="font-family:'Liberation Serif',serif;font-weight:bold;font-size:15px" fill="#111">−2</text>
<line x1="399.3" y1="356.8" x2="399.3" y2="439.5" stroke="#304b6c" stroke-width="2.8"/>
<g transform="translate(386.3,439.2)"><rect x="0.4" y="0.4" width="25.2" height="24.7" fill="#342a28" stroke="#b45c40" stroke-width="0.9"/><circle cx="13" cy="12.75" r="10.4" fill="none" stroke="#6a4238" stroke-width="1.3" opacity="0.5" filter="url(#fb)"/><circle cx="13" cy="12.75" r="8.8" fill="none" stroke="#1c1514" stroke-width="1.6" opacity="0.6" filter="url(#fb)"/><g filter="url(#fb2)" opacity="0.55"><line x1="11.53" y1="10.89" x2="11.82" y2="10.37" stroke="#a05a48" stroke-width="5"/><line x1="11.82" y1="10.37" x2="12.27" y2="9.89" stroke="#a05a48" stroke-width="5"/><line x1="12.27" y1="9.89" x2="12.86" y2="9.51" stroke="#a05a48" stroke-width="5"/><line x1="12.86" y1="9.51" x2="13.58" y2="9.27" stroke="#a05a48" stroke-width="5"/><line x1="13.58" y1="9.27" x2="14.40" y2="9.19" stroke="#a05a48" stroke-width="5"/><line x1="14.40" y1="9.19" x2="15.26" y2="9.31" stroke="#a05a48" stroke-width="5"/><line x1="15.26" y1="9.31" x2="16.13" y2="9.65" stroke="#a05a48" stroke-width="5"/><line x1="16.13" y1="9.65" x2="16.95" y2="10.21" stroke="#a05a48" stroke-width="5"/><line x1="16.95" y1="10.21" x2="17.67" y2="10.98" stroke="#a05a48" stroke-width="5"/><line x1="17.67" y1="10.98" x2="18.22" y2="11.93" stroke="#a05a48" stroke-width="5"/><line x1="18.22" y1="11.93" x2="18.57" y2="13.05" stroke="#a05a48" stroke-width="5"/><line x1="18.57" y1="13.05" x2="18.67" y2="14.27" stroke="#a05a48" stroke-width="5"/><line x1="18.67" y1="14.27" x2="18.49" y2="15.54" stroke="#a05a48" stroke-width="5"/><line x1="18.49" y1="15.54" x2="18.02" y2="16.80" stroke="#a05a48" stroke-width="5"/><line x1="18.02" y1="16.80" x2="17.26" y2="17.97" stroke="#a05a48" stroke-width="5"/><line x1="17.26" y1="17.97" x2="16.22" y2="19.00" stroke="#a05a48" stroke-width="5"/><line x1="16.22" y1="19.00" x2="14.94" y2="19.81" stroke="#a05a48" stroke-width="5"/><line x1="14.94" y1="19.81" x2="13.45" y2="20.35" stroke="#a05a48" stroke-width="5"/><line x1="13.45" y1="20.35" x2="11.83" y2="20.57" stroke="#a05a48" stroke-width="5"/><line x1="11.83" y1="20.57" x2="10.13" y2="20.43" stroke="#a05a48" stroke-width="5"/></g><g filter="url(#fm)"><line x1="11.80" y1="12.67" x2="11.57" y2="12.34" stroke="#67423b" stroke-width="1.75" stroke-linecap="round"/><line x1="11.57" y1="12.34" x2="11.42" y2="11.92" stroke="#83645d" stroke-width="2.05" stroke-linecap="round"/><line x1="11.42" y1="11.92" x2="11.41" y2="11.42" stroke="#9e857f" stroke-width="2.35" stroke-linecap="round"/><line x1="11.41" y1="11.42" x2="11.53" y2="10.89" stroke="#baa6a2" stroke-width="2.65" stroke-linecap="round"/><line x1="11.53" y1="10.89" x2="11.82" y2="10.37" stroke="#d5c8c4" stroke-width="2.95" stroke-linecap="round"/><line x1="11.82" y1="10.37" x2="12.27" y2="9.89" stroke="#f1e9e6" stroke-width="3.25" stroke-linecap="round"/><line x1="12.27" y1="9.89" x2="12.86" y2="9.51" stroke="#fffaf8" stroke-width="3.40" stroke-linecap="round"/><line x1="12.86" y1="9.51" x2="13.58" y2="9.27" stroke="#fffaf8" stroke-width="3.40" stroke-linecap="round"/><line x1="13.58" y1="9.27" x2="14.40" y2="9.19" stroke="#fffaf8" stroke-width="3.40" stroke-linecap="round"/><line x1="14.40" y1="9.19" x2="15.26" y2="9.31" stroke="#fffaf8" stroke-width="3.40" stroke-linecap="round"/><line x1="15.26" y1="9.31" x2="16.13" y2="9.65" stroke="#fffaf8" stroke-width="3.40" stroke-linecap="round"/><line x1="16.13" y1="9.65" x2="16.95" y2="10.21" stroke="#fffaf8" stroke-width="3.40" stroke-linecap="round"/><line x1="16.95" y1="10.21" x2="17.67" y2="10.98" stroke="#fffaf8" stroke-width="3.40" stroke-linecap="round"/><line x1="17.67" y1="10.98" x2="18.22" y2="11.93" stroke="#fffaf8" stroke-width="3.40" stroke-linecap="round"/><line x1="18.22" y1="11.93" x2="18.57" y2="13.05" stroke="#fef7f5" stroke-width="3.39" stroke-linecap="round"/><line x1="18.57" y1="13.05" x2="18.67" y2="14.27" stroke="#f4e2dd" stroke-width="3.24" stroke-linecap="round"/><line x1="18.67" y1="14.27" x2="18.49" y2="15.54" stroke="#ebccc4" stroke-width="3.09" stroke-linecap="round"/><line x1="18.49" y1="15.54" x2="18.02" y2="16.80" stroke="#e2b7ac" stroke-width="2.95" stroke-linecap="round"/><line x1="18.02" y1="16.80" x2="17.26" y2="17.97" stroke="#d9a194" stroke-width="2.80" stroke-linecap="round"/><line x1="17.26" y1="17.97" x2="16.22" y2="19.00" stroke="#cf8c7b" stroke-width="2.66" stroke-linecap="round"/><line x1="16.22" y1="19.00" x2="14.94" y2="19.81" stroke="#c67663" stroke-width="2.51" stroke-linecap="round"/><line x1="14.94" y1="19.81" x2="13.45" y2="20.35" stroke="#c4705c" stroke-width="2.36" stroke-linecap="round"/><line x1="13.45" y1="20.35" x2="11.83" y2="20.57" stroke="#c4705c" stroke-width="2.22" stroke-linecap="round"/><line x1="11.83" y1="20.57" x2="10.13" y2="20.43" stroke="#c4705c" stroke-width="2.07" stroke-linecap="round"/></g></g>
<text transform="translate(398.3,486.8) scale(1.25,1.05)" x="0" y="0" text-anchor="middle" style="font-family:'Liberation Serif',serif;font-weight:bold;font-size:15px" fill="#111">−1</text>
<line x1="432.9" y1="356.8" x2="432.9" y2="439.5" stroke="#304b6c" stroke-width="2.8"/>
<g transform="translate(419.9,439.2)"><rect x="0.4" y="0.4" width="25.2" height="24.7" fill="#342a28" stroke="#b45c40" stroke-width="0.9"/><circle cx="13" cy="12.75" r="10.4" fill="none" stroke="#6a4238" stroke-width="1.3" opacity="0.5" filter="url(#fb)"/><rect x="1" y="1" width="24" height="23.5" fill="#221c1b"/><circle cx="13" cy="12.75" r="9.6" fill="none" stroke="#4a3430" stroke-width="1.4" opacity="0.7" filter="url(#fb)"/><circle cx="13" cy="12.75" r="4.8" fill="#a8624c" filter="url(#fb2)"/><circle cx="13" cy="12.75" r="3.0" fill="#fff" filter="url(#fb)"/></g>
<text transform="translate(431.9,486.8) scale(1.25,1.05)" x="0" y="0" text-anchor="middle" style="font-family:'Liberation Serif',serif;font-weight:bold;font-size:15px" fill="#111">0</text>
<line x1="466.5" y1="358" x2="466.5" y2="439.5" stroke="#304b6c" stroke-width="2.8"/>
<g transform="translate(453.5,439.2)"><rect x="0.4" y="0.4" width="25.2" height="24.7" fill="#342a28" stroke="#b45c40" stroke-width="0.9"/><circle cx="13" cy="12.75" r="10.4" fill="none" stroke="#6a4238" stroke-width="1.3" opacity="0.5" filter="url(#fb)"/><circle cx="13" cy="12.75" r="8.8" fill="none" stroke="#1c1514" stroke-width="1.6" opacity="0.6" filter="url(#fb)"/><g filter="url(#fb2)" opacity="0.55"><line x1="14.47" y1="10.89" x2="14.18" y2="10.37" stroke="#a05a48" stroke-width="5"/><line x1="14.18" y1="10.37" x2="13.73" y2="9.89" stroke="#a05a48" stroke-width="5"/><line x1="13.73" y1="9.89" x2="13.14" y2="9.51" stroke="#a05a48" stroke-width="5"/><line x1="13.14" y1="9.51" x2="12.42" y2="9.27" stroke="#a05a48" stroke-width="5"/><line x1="12.42" y1="9.27" x2="11.60" y2="9.19" stroke="#a05a48" stroke-width="5"/><line x1="11.60" y1="9.19" x2="10.74" y2="9.31" stroke="#a05a48" stroke-width="5"/><line x1="10.74" y1="9.31" x2="9.87" y2="9.65" stroke="#a05a48" stroke-width="5"/><line x1="9.87" y1="9.65" x2="9.05" y2="10.21" stroke="#a05a48" stroke-width="5"/><line x1="9.05" y1="10.21" x2="8.33" y2="10.98" stroke="#a05a48" stroke-width="5"/><line x1="8.33" y1="10.98" x2="7.78" y2="11.93" stroke="#a05a48" stroke-width="5"/><line x1="7.78" y1="11.93" x2="7.43" y2="13.05" stroke="#a05a48" stroke-width="5"/><line x1="7.43" y1="13.05" x2="7.33" y2="14.27" stroke="#a05a48" stroke-width="5"/><line x1="7.33" y1="14.27" x2="7.51" y2="15.54" stroke="#a05a48" stroke-width="5"/><line x1="7.51" y1="15.54" x2="7.98" y2="16.80" stroke="#a05a48" stroke-width="5"/><line x1="7.98" y1="16.80" x2="8.74" y2="17.97" stroke="#a05a48" stroke-width="5"/><line x1="8.74" y1="17.97" x2="9.78" y2="19.00" stroke="#a05a48" stroke-width="5"/><line x1="9.78" y1="19.00" x2="11.06" y2="19.81" stroke="#a05a48" stroke-width="5"/><line x1="11.06" y1="19.81" x2="12.55" y2="20.35" stroke="#a05a48" stroke-width="5"/><line x1="12.55" y1="20.35" x2="14.17" y2="20.57" stroke="#a05a48" stroke-width="5"/><line x1="14.17" y1="20.57" x2="15.87" y2="20.43" stroke="#a05a48" stroke-width="5"/></g><g filter="url(#fm)"><line x1="14.20" y1="12.67" x2="14.43" y2="12.34" stroke="#67423b" stroke-width="1.75" stroke-linecap="round"/><line x1="14.43" y1="12.34" x2="14.58" y2="11.92" stroke="#83645d" stroke-width="2.05" stroke-linecap="round"/><line x1="14.58" y1="11.92" x2="14.59" y2="11.42" stroke="#9e857f" stroke-width="2.35" stroke-linecap="round"/><line x1="14.59" y1="11.42" x2="14.47" y2="10.89" stroke="#baa6a2" stroke-width="2.65" stroke-linecap="round"/><line x1="14.47" y1="10.89" x2="14.18" y2="10.37" stroke="#d5c8c4" stroke-width="2.95" stroke-linecap="round"/><line x1="14.18" y1="10.37" x2="13.73" y2="9.89" stroke="#f1e9e6" stroke-width="3.25" stroke-linecap="round"/><line x1="13.73" y1="9.89" x2="13.14" y2="9.51" stroke="#fffaf8" stroke-width="3.40" stroke-linecap="round"/><line x1="13.14" y1="9.51" x2="12.42" y2="9.27" stroke="#fffaf8" stroke-width="3.40" stroke-linecap="round"/><line x1="12.42" y1="9.27" x2="11.60" y2="9.19" stroke="#fffaf8" stroke-width="3.40" stroke-linecap="round"/><line x1="11.60" y1="9.19" x2="10.74" y2="9.31" stroke="#fffaf8" stroke-width="3.40" stroke-linecap="round"/><line x1="10.74" y1="9.31" x2="9.87" y2="9.65" stroke="#fffaf8" stroke-width="3.40" stroke-linecap="round"/><line x1="9.87" y1="9.65" x2="9.05" y2="10.21" stroke="#fffaf8" stroke-width="3.40" stroke-linecap="round"/><line x1="9.05" y1="10.21" x2="8.33" y2="10.98" stroke="#fffaf8" stroke-width="3.40" stroke-linecap="round"/><line x1="8.33" y1="10.98" x2="7.78" y2="11.93" stroke="#fffaf8" stroke-width="3.40" stroke-linecap="round"/><line x1="7.78" y1="11.93" x2="7.43" y2="13.05" stroke="#fef7f5" stroke-width="3.39" stroke-linecap="round"/><line x1="7.43" y1="13.05" x2="7.33" y2="14.27" stroke="#f4e2dd" stroke-width="3.24" stroke-linecap="round"/><line x1="7.33" y1="14.27" x2="7.51" y2="15.54" stroke="#ebccc4" stroke-width="3.09" stroke-linecap="round"/><line x1="7.51" y1="15.54" x2="7.98" y2="16.80" stroke="#e2b7ac" stroke-width="2.95" stroke-linecap="round"/><line x1="7.98" y1="16.80" x2="8.74" y2="17.97" stroke="#d9a194" stroke-width="2.80" stroke-linecap="round"/><line x1="8.74" y1="17.97" x2="9.78" y2="19.00" stroke="#cf8c7b" stroke-width="2.66" stroke-linecap="round"/><line x1="9.78" y1="19.00" x2="11.06" y2="19.81" stroke="#c67663" stroke-width="2.51" stroke-linecap="round"/><line x1="11.06" y1="19.81" x2="12.55" y2="20.35" stroke="#c4705c" stroke-width="2.36" stroke-linecap="round"/><line x1="12.55" y1="20.35" x2="14.17" y2="20.57" stroke="#c4705c" stroke-width="2.22" stroke-linecap="round"/><line x1="14.17" y1="20.57" x2="15.87" y2="20.43" stroke="#c4705c" stroke-width="2.07" stroke-linecap="round"/></g></g>
<text transform="translate(465.5,486.8) scale(1.25,1.05)" x="0" y="0" text-anchor="middle" style="font-family:'Liberation Serif',serif;font-weight:bold;font-size:15px" fill="#111">+1</text>
<line x1="500.1" y1="356.3" x2="500.1" y2="439.5" stroke="#304b6c" stroke-width="2.8"/>
<g transform="translate(487.1,439.2)"><rect x="0.4" y="0.4" width="25.2" height="24.7" fill="#342a28" stroke="#b45c40" stroke-width="0.9"/><circle cx="13" cy="12.75" r="10.4" fill="none" stroke="#6a4238" stroke-width="1.3" opacity="0.5" filter="url(#fb)"/><circle cx="13" cy="12.75" r="8.8" fill="none" stroke="#1c1514" stroke-width="1.6" opacity="0.6" filter="url(#fb)"/><g filter="url(#fb2)" opacity="0.55"><line x1="14.97" y1="14.88" x2="15.48" y2="14.73" stroke="#a05a48" stroke-width="5"/><line x1="15.48" y1="14.73" x2="15.99" y2="14.47" stroke="#a05a48" stroke-width="5"/><line x1="15.99" y1="14.47" x2="16.47" y2="14.11" stroke="#a05a48" stroke-width="5"/><line x1="16.47" y1="14.11" x2="16.90" y2="13.63" stroke="#a05a48" stroke-width="5"/><line x1="16.90" y1="13.63" x2="17.26" y2="13.06" stroke="#a05a48" stroke-width="5"/><line x1="17.26" y1="13.06" x2="17.54" y2="12.40" stroke="#a05a48" stroke-width="5"/><line x1="17.54" y1="12.40" x2="17.70" y2="11.66" stroke="#a05a48" stroke-width="5"/><line x1="17.70" y1="11.66" x2="17.74" y2="10.87" stroke="#a05a48" stroke-width="5"/><line x1="17.74" y1="10.87" x2="17.64" y2="10.04" stroke="#a05a48" stroke-width="5"/><line x1="17.64" y1="10.04" x2="17.40" y2="9.21" stroke="#a05a48" stroke-width="5"/><line x1="17.40" y1="9.21" x2="17.01" y2="8.39" stroke="#a05a48" stroke-width="5"/><line x1="17.01" y1="8.39" x2="16.47" y2="7.61" stroke="#a05a48" stroke-width="5"/><line x1="16.47" y1="7.61" x2="15.78" y2="6.90" stroke="#a05a48" stroke-width="5"/><line x1="15.78" y1="6.90" x2="14.95" y2="6.29" stroke="#a05a48" stroke-width="5"/><line x1="14.95" y1="6.29" x2="14.00" y2="5.80" stroke="#a05a48" stroke-width="5"/><line x1="14.00" y1="5.80" x2="12.95" y2="5.45" stroke="#a05a48" stroke-width="5"/><line x1="12.95" y1="5.45" x2="11.82" y2="5.27" stroke="#a05a48" stroke-width="5"/><line x1="11.82" y1="5.27" x2="10.63" y2="5.27" stroke="#a05a48" stroke-width="5"/><line x1="10.63" y1="5.27" x2="9.42" y2="5.46" stroke="#a05a48" stroke-width="5"/><line x1="9.42" y1="5.46" x2="8.21" y2="5.85" stroke="#a05a48" stroke-width="5"/><line x1="11.03" y1="10.62" x2="10.52" y2="10.77" stroke="#a05a48" stroke-width="5"/><line x1="10.52" y1="10.77" x2="10.01" y2="11.03" stroke="#a05a48" stroke-width="5"/><line x1="10.01" y1="11.03" x2="9.53" y2="11.39" stroke="#a05a48" stroke-width="5"/><line x1="9.53" y1="11.39" x2="9.10" y2="11.87" stroke="#a05a48" stroke-width="5"/><line x1="9.10" y1="11.87" x2="8.74" y2="12.44" stroke="#a05a48" stroke-width="5"/><line x1="8.74" y1="12.44" x2="8.46" y2="13.10" stroke="#a05a48" stroke-width="5"/><line x1="8.46" y1="13.10" x2="8.30" y2="13.84" stroke="#a05a48" stroke-width="5"/><line x1="8.30" y1="13.84" x2="8.26" y2="14.63" stroke="#a05a48" stroke-width="5"/><line x1="8.26" y1="14.63" x2="8.36" y2="15.46" stroke="#a05a48" stroke-width="5"/><line x1="8.36" y1="15.46" x2="8.60" y2="16.29" stroke="#a05a48" stroke-width="5"/><line x1="8.60" y1="16.29" x2="8.99" y2="17.11" stroke="#a05a48" stroke-width="5"/><line x1="8.99" y1="17.11" x2="9.53" y2="17.89" stroke="#a05a48" stroke-width="5"/><line x1="9.53" y1="17.89" x2="10.22" y2="18.60" stroke="#a05a48" stroke-width="5"/><line x1="10.22" y1="18.60" x2="11.05" y2="19.21" stroke="#a05a48" stroke-width="5"/><line x1="11.05" y1="19.21" x2="12.00" y2="19.70" stroke="#a05a48" stroke-width="5"/><line x1="12.00" y1="19.70" x2="13.05" y2="20.05" stroke="#a05a48" stroke-width="5"/><line x1="13.05" y1="20.05" x2="14.18" y2="20.23" stroke="#a05a48" stroke-width="5"/><line x1="14.18" y1="20.23" x2="15.37" y2="20.23" stroke="#a05a48" stroke-width="5"/><line x1="15.37" y1="20.23" x2="16.58" y2="20.04" stroke="#a05a48" stroke-width="5"/><line x1="16.58" y1="20.04" x2="17.79" y2="19.65" stroke="#a05a48" stroke-width="5"/></g><g filter="url(#fm)"><line x1="13.27" y1="14.53" x2="13.61" y2="14.73" stroke="#67423b" stroke-width="1.75" stroke-linecap="round"/><line x1="13.61" y1="14.73" x2="14.02" y2="14.87" stroke="#83645d" stroke-width="2.05" stroke-linecap="round"/><line x1="14.02" y1="14.87" x2="14.48" y2="14.92" stroke="#9e857f" stroke-width="2.35" stroke-linecap="round"/><line x1="14.48" y1="14.92" x2="14.97" y2="14.88" stroke="#baa6a2" stroke-width="2.65" stroke-linecap="round"/><line x1="14.97" y1="14.88" x2="15.48" y2="14.73" stroke="#d5c8c4" stroke-width="2.95" stroke-linecap="round"/><line x1="15.48" y1="14.73" x2="15.99" y2="14.47" stroke="#f1e9e6" stroke-width="3.25" stroke-linecap="round"/><line x1="15.99" y1="14.47" x2="16.47" y2="14.11" stroke="#fffaf8" stroke-width="3.40" stroke-linecap="round"/><line x1="16.47" y1="14.11" x2="16.90" y2="13.63" stroke="#fffaf8" stroke-width="3.40" stroke-linecap="round"/><line x1="16.90" y1="13.63" x2="17.26" y2="13.06" stroke="#fffaf8" stroke-width="3.40" stroke-linecap="round"/><line x1="17.26" y1="13.06" x2="17.54" y2="12.40" stroke="#fffaf8" stroke-width="3.40" stroke-linecap="round"/><line x1="17.54" y1="12.40" x2="17.70" y2="11.66" stroke="#fffaf8" stroke-width="3.40" stroke-linecap="round"/><line x1="17.70" y1="11.66" x2="17.74" y2="10.87" stroke="#fffaf8" stroke-width="3.40" stroke-linecap="round"/><line x1="17.74" y1="10.87" x2="17.64" y2="10.04" stroke="#fffaf8" stroke-width="3.40" stroke-linecap="round"/><line x1="17.64" y1="10.04" x2="17.40" y2="9.21" stroke="#fffaf8" stroke-width="3.40" stroke-linecap="round"/><line x1="17.40" y1="9.21" x2="17.01" y2="8.39" stroke="#fef7f5" stroke-width="3.39" stroke-linecap="round"/><line x1="17.01" y1="8.39" x2="16.47" y2="7.61" stroke="#f4e2dd" stroke-width="3.24" stroke-linecap="round"/><line x1="16.47" y1="7.61" x2="15.78" y2="6.90" stroke="#ebccc4" stroke-width="3.09" stroke-linecap="round"/><line x1="15.78" y1="6.90" x2="14.95" y2="6.29" stroke="#e2b7ac" stroke-width="2.95" stroke-linecap="round"/><line x1="14.95" y1="6.29" x2="14.00" y2="5.80" stroke="#d9a194" stroke-width="2.80" stroke-linecap="round"/><line x1="14.00" y1="5.80" x2="12.95" y2="5.45" stroke="#cf8c7b" stroke-width="2.66" stroke-linecap="round"/><line x1="12.95" y1="5.45" x2="11.82" y2="5.27" stroke="#c67663" stroke-width="2.51" stroke-linecap="round"/><line x1="11.82" y1="5.27" x2="10.63" y2="5.27" stroke="#c4705c" stroke-width="2.36" stroke-linecap="round"/><line x1="10.63" y1="5.27" x2="9.42" y2="5.46" stroke="#c4705c" stroke-width="2.22" stroke-linecap="round"/><line x1="9.42" y1="5.46" x2="8.21" y2="5.85" stroke="#c4705c" stroke-width="2.07" stroke-linecap="round"/><line x1="12.73" y1="10.97" x2="12.39" y2="10.77" stroke="#67423b" stroke-width="1.75" stroke-linecap="round"/><line x1="12.39" y1="10.77" x2="11.98" y2="10.63" stroke="#83645d" stroke-width="2.05" stroke-linecap="round"/><line x1="11.98" y1="10.63" x2="11.52" y2="10.58" stroke="#9e857f" stroke-width="2.35" stroke-linecap="round"/><line x1="11.52" y1="10.58" x2="11.03" y2="10.62" stroke="#baa6a2" stroke-width="2.65" stroke-linecap="round"/><line x1="11.03" y1="10.62" x2="10.52" y2="10.77" stroke="#d5c8c4" stroke-width="2.95" stroke-linecap="round"/><line x1="10.52" y1="10.77" x2="10.01" y2="11.03" stroke="#f1e9e6" stroke-width="3.25" stroke-linecap="round"/><line x1="10.01" y1="11.03" x2="9.53" y2="11.39" stroke="#fffaf8" stroke-width="3.40" stroke-linecap="round"/><line x1="9.53" y1="11.39" x2="9.10" y2="11.87" stroke="#fffaf8" stroke-width="3.40" stroke-linecap="round"/><line x1="9.10" y1="11.87" x2="8.74" y2="12.44" stroke="#fffaf8" stroke-width="3.40" stroke-linecap="round"/><line x1="8.74" y1="12.44" x2="8.46" y2="13.10" stroke="#fffaf8" stroke-width="3.40" stroke-linecap="round"/><line x1="8.46" y1="13.10" x2="8.30" y2="13.84" stroke="#fffaf8" stroke-width="3.40" stroke-linecap="round"/><line x1="8.30" y1="13.84" x2="8.26" y2="14.63" stroke="#fffaf8" stroke-width="3.40" stroke-linecap="round"/><line x1="8.26" y1="14.63" x2="8.36" y2="15.46" stroke="#fffaf8" stroke-width="3.40" stroke-linecap="round"/><line x1="8.36" y1="15.46" x2="8.60" y2="16.29" stroke="#fffaf8" stroke-width="3.40" stroke-linecap="round"/><line x1="8.60" y1="16.29" x2="8.99" y2="17.11" stroke="#fef7f5" stroke-width="3.39" stroke-linecap="round"/><line x1="8.99" y1="17.11" x2="9.53" y2="17.89" stroke="#f4e2dd" stroke-width="3.24" stroke-linecap="round"/><line x1="9.53" y1="17.89" x2="10.22" y2="18.60" stroke="#ebccc4" stroke-width="3.09" stroke-linecap="round"/><line x1="10.22" y1="18.60" x2="11.05" y2="19.21" stroke="#e2b7ac" stroke-width="2.95" stroke-linecap="round"/><line x1="11.05" y1="19.21" x2="12.00" y2="19.70" stroke="#d9a194" stroke-width="2.80" stroke-linecap="round"/><line x1="12.00" y1="19.70" x2="13.05" y2="20.05" stroke="#cf8c7b" stroke-width="2.66" stroke-linecap="round"/><line x1="13.05" y1="20.05" x2="14.18" y2="20.23" stroke="#c67663" stroke-width="2.51" stroke-linecap="round"/><line x1="14.18" y1="20.23" x2="15.37" y2="20.23" stroke="#c4705c" stroke-width="2.36" stroke-linecap="round"/><line x1="15.37" y1="20.23" x2="16.58" y2="20.04" stroke="#c4705c" stroke-width="2.22" stroke-linecap="round"/><line x1="16.58" y1="20.04" x2="17.79" y2="19.65" stroke="#c4705c" stroke-width="2.07" stroke-linecap="round"/></g></g>
<text transform="translate(499.1,486.8) scale(1.25,1.05)" x="0" y="0" text-anchor="middle" style="font-family:'Liberation Serif',serif;font-weight:bold;font-size:15px" fill="#111">+2</text>
<line x1="533.7" y1="357.6" x2="533.7" y2="439.5" stroke="#304b6c" stroke-width="2.8"/>
<g transform="translate(520.7,439.2)"><rect x="0.4" y="0.4" width="25.2" height="24.7" fill="#342a28" stroke="#b45c40" stroke-width="0.9"/><circle cx="13" cy="12.75" r="10.4" fill="none" stroke="#6a4238" stroke-width="1.3" opacity="0.5" filter="url(#fb)"/><circle cx="13" cy="12.75" r="8.8" fill="none" stroke="#1c1514" stroke-width="1.6" opacity="0.6" filter="url(#fb)"/><g filter="url(#fb2)" opacity="0.55"><line x1="16.43" y1="12.65" x2="16.65" y2="12.21" stroke="#a05a48" stroke-width="5"/><line x1="16.65" y1="12.21" x2="16.81" y2="11.72" stroke="#a05a48" stroke-width="5"/><line x1="16.81" y1="11.72" x2="16.91" y2="11.19" stroke="#a05a48" stroke-width="5"/><line x1="16.91" y1="11.19" x2="16.93" y2="10.62" stroke="#a05a48" stroke-width="5"/><line x1="16.93" y1="10.62" x2="16.86" y2="10.03" stroke="#a05a48" stroke-width="5"/><line x1="16.86" y1="10.03" x2="16.71" y2="9.43" stroke="#a05a48" stroke-width="5"/><line x1="16.71" y1="9.43" x2="16.47" y2="8.82" stroke="#a05a48" stroke-width="5"/><line x1="16.47" y1="8.82" x2="16.14" y2="8.23" stroke="#a05a48" stroke-width="5"/><line x1="16.14" y1="8.23" x2="15.71" y2="7.67" stroke="#a05a48" stroke-width="5"/><line x1="15.71" y1="7.67" x2="15.20" y2="7.15" stroke="#a05a48" stroke-width="5"/><line x1="15.20" y1="7.15" x2="14.60" y2="6.68" stroke="#a05a48" stroke-width="5"/><line x1="14.60" y1="6.68" x2="13.91" y2="6.28" stroke="#a05a48" stroke-width="5"/><line x1="13.91" y1="6.28" x2="13.16" y2="5.96" stroke="#a05a48" stroke-width="5"/><line x1="13.16" y1="5.96" x2="12.35" y2="5.73" stroke="#a05a48" stroke-width="5"/><line x1="12.35" y1="5.73" x2="11.48" y2="5.60" stroke="#a05a48" stroke-width="5"/><line x1="11.48" y1="5.60" x2="10.58" y2="5.58" stroke="#a05a48" stroke-width="5"/><line x1="10.58" y1="5.58" x2="9.65" y2="5.68" stroke="#a05a48" stroke-width="5"/><line x1="9.65" y1="5.68" x2="8.71" y2="5.90" stroke="#a05a48" stroke-width="5"/><line x1="8.71" y1="5.90" x2="7.78" y2="6.24" stroke="#a05a48" stroke-width="5"/><line x1="7.78" y1="6.24" x2="6.87" y2="6.71" stroke="#a05a48" stroke-width="5"/><line x1="11.19" y1="9.83" x2="10.71" y2="9.86" stroke="#a05a48" stroke-width="5"/><line x1="10.71" y1="9.86" x2="10.20" y2="9.96" stroke="#a05a48" stroke-width="5"/><line x1="10.20" y1="9.96" x2="9.69" y2="10.15" stroke="#a05a48" stroke-width="5"/><line x1="9.69" y1="10.15" x2="9.19" y2="10.41" stroke="#a05a48" stroke-width="5"/><line x1="9.19" y1="10.41" x2="8.71" y2="10.77" stroke="#a05a48" stroke-width="5"/><line x1="8.71" y1="10.77" x2="8.26" y2="11.20" stroke="#a05a48" stroke-width="5"/><line x1="8.26" y1="11.20" x2="7.86" y2="11.71" stroke="#a05a48" stroke-width="5"/><line x1="7.86" y1="11.71" x2="7.52" y2="12.29" stroke="#a05a48" stroke-width="5"/><line x1="7.52" y1="12.29" x2="7.24" y2="12.94" stroke="#a05a48" stroke-width="5"/><line x1="7.24" y1="12.94" x2="7.05" y2="13.65" stroke="#a05a48" stroke-width="5"/><line x1="7.05" y1="13.65" x2="6.95" y2="14.40" stroke="#a05a48" stroke-width="5"/><line x1="6.95" y1="14.40" x2="6.94" y2="15.19" stroke="#a05a48" stroke-width="5"/><line x1="6.94" y1="15.19" x2="7.04" y2="16.00" stroke="#a05a48" stroke-width="5"/><line x1="7.04" y1="16.00" x2="7.25" y2="16.83" stroke="#a05a48" stroke-width="5"/><line x1="7.25" y1="16.83" x2="7.57" y2="17.64" stroke="#a05a48" stroke-width="5"/><line x1="7.57" y1="17.64" x2="8.01" y2="18.43" stroke="#a05a48" stroke-width="5"/><line x1="8.01" y1="18.43" x2="8.55" y2="19.19" stroke="#a05a48" stroke-width="5"/><line x1="8.55" y1="19.19" x2="9.21" y2="19.89" stroke="#a05a48" stroke-width="5"/><line x1="9.21" y1="19.89" x2="9.98" y2="20.52" stroke="#a05a48" stroke-width="5"/><line x1="9.98" y1="20.52" x2="10.84" y2="21.07" stroke="#a05a48" stroke-width="5"/><line x1="11.37" y1="15.77" x2="11.64" y2="16.18" stroke="#a05a48" stroke-width="5"/><line x1="11.64" y1="16.18" x2="11.98" y2="16.57" stroke="#a05a48" stroke-width="5"/><line x1="11.98" y1="16.57" x2="12.40" y2="16.92" stroke="#a05a48" stroke-width="5"/><line x1="12.40" y1="16.92" x2="12.88" y2="17.22" stroke="#a05a48" stroke-width="5"/><line x1="12.88" y1="17.22" x2="13.43" y2="17.46" stroke="#a05a48" stroke-width="5"/><line x1="13.43" y1="17.46" x2="14.02" y2="17.63" stroke="#a05a48" stroke-width="5"/><line x1="14.02" y1="17.63" x2="14.67" y2="17.72" stroke="#a05a48" stroke-width="5"/><line x1="14.67" y1="17.72" x2="15.34" y2="17.73" stroke="#a05a48" stroke-width="5"/><line x1="15.34" y1="17.73" x2="16.04" y2="17.64" stroke="#a05a48" stroke-width="5"/><line x1="16.04" y1="17.64" x2="16.75" y2="17.45" stroke="#a05a48" stroke-width="5"/><line x1="16.75" y1="17.45" x2="17.46" y2="17.17" stroke="#a05a48" stroke-width="5"/><line x1="17.46" y1="17.17" x2="18.14" y2="16.78" stroke="#a05a48" stroke-width="5"/><line x1="18.14" y1="16.78" x2="18.80" y2="16.28" stroke="#a05a48" stroke-width="5"/><line x1="18.80" y1="16.28" x2="19.41" y2="15.69" stroke="#a05a48" stroke-width="5"/><line x1="19.41" y1="15.69" x2="19.95" y2="15.01" stroke="#a05a48" stroke-width="5"/><line x1="19.95" y1="15.01" x2="20.42" y2="14.23" stroke="#a05a48" stroke-width="5"/><line x1="20.42" y1="14.23" x2="20.80" y2="13.38" stroke="#a05a48" stroke-width="5"/><line x1="20.80" y1="13.38" x2="21.08" y2="12.46" stroke="#a05a48" stroke-width="5"/><line x1="21.08" y1="12.46" x2="21.24" y2="11.48" stroke="#a05a48" stroke-width="5"/><line x1="21.24" y1="11.48" x2="21.29" y2="10.46" stroke="#a05a48" stroke-width="5"/></g><g filter="url(#fm)"><line x1="15.18" y1="13.76" x2="15.52" y2="13.59" stroke="#67423b" stroke-width="1.75" stroke-linecap="round"/><line x1="15.52" y1="13.59" x2="15.86" y2="13.34" stroke="#83645d" stroke-width="2.05" stroke-linecap="round"/><line x1="15.86" y1="13.34" x2="16.16" y2="13.02" stroke="#9e857f" stroke-width="2.35" stroke-linecap="round"/><line x1="16.16" y1="13.02" x2="16.43" y2="12.65" stroke="#baa6a2" stroke-width="2.65" stroke-linecap="round"/><line x1="16.43" y1="12.65" x2="16.65" y2="12.21" stroke="#d5c8c4" stroke-width="2.95" stroke-linecap="round"/><line x1="16.65" y1="12.21" x2="16.81" y2="11.72" stroke="#f1e9e6" stroke-width="3.25" stroke-linecap="round"/><line x1="16.81" y1="11.72" x2="16.91" y2="11.19" stroke="#fffaf8" stroke-width="3.40" stroke-linecap="round"/><line x1="16.91" y1="11.19" x2="16.93" y2="10.62" stroke="#fffaf8" stroke-width="3.40" stroke-linecap="round"/><line x1="16.93" y1="10.62" x2="16.86" y2="10.03" stroke="#fffaf8" stroke-width="3.40" stroke-linecap="round"/><line x1="16.86" y1="10.03" x2="16.71" y2="9.43" stroke="#fffaf8" stroke-width="3.40" stroke-linecap="round"/><line x1="16.71" y1="9.43" x2="16.47" y2="8.82" stroke="#fffaf8" stroke-width="3.40" stroke-linecap="round"/><line x1="16.47" y1="8.82" x2="16.14" y2="8.23" stroke="#fffaf8" stroke-width="3.40" stroke-linecap="round"/><line x1="16.14" y1="8.23" x2="15.71" y2="7.67" stroke="#fffaf8" stroke-width="3.40" stroke-linecap="round"/><line x1="15.71" y1="7.67" x2="15.20" y2="7.15" stroke="#fffaf8" stroke-width="3.40" stroke-linecap="round"/><line x1="15.20" y1="7.15" x2="14.60" y2="6.68" stroke="#fef7f5" stroke-width="3.39" stroke-linecap="round"/><line x1="14.60" y1="6.68" x2="13.91" y2="6.28" stroke="#f4e2dd" stroke-width="3.24" stroke-linecap="round"/><line x1="13.91" y1="6.28" x2="13.16" y2="5.96" stroke="#ebccc4" stroke-width="3.09" stroke-linecap="round"/><line x1="13.16" y1="5.96" x2="12.35" y2="5.73" stroke="#e2b7ac" stroke-width="2.95" stroke-linecap="round"/><line x1="12.35" y1="5.73" x2="11.48" y2="5.60" stroke="#d9a194" stroke-width="2.80" stroke-linecap="round"/><line x1="11.48" y1="5.60" x2="10.58" y2="5.58" stroke="#cf8c7b" stroke-width="2.66" stroke-linecap="round"/><line x1="10.58" y1="5.58" x2="9.65" y2="5.68" stroke="#c67663" stroke-width="2.51" stroke-linecap="round"/><line x1="9.65" y1="5.68" x2="8.71" y2="5.90" stroke="#c4705c" stroke-width="2.36" stroke-linecap="round"/><line x1="8.71" y1="5.90" x2="7.78" y2="6.24" stroke="#c4705c" stroke-width="2.22" stroke-linecap="round"/><line x1="7.78" y1="6.24" x2="6.87" y2="6.71" stroke="#c4705c" stroke-width="2.07" stroke-linecap="round"/><line x1="12.79" y1="10.36" x2="12.46" y2="10.15" stroke="#67423b" stroke-width="1.75" stroke-linecap="round"/><line x1="12.46" y1="10.15" x2="12.08" y2="9.98" stroke="#83645d" stroke-width="2.05" stroke-linecap="round"/><line x1="12.08" y1="9.98" x2="11.66" y2="9.87" stroke="#9e857f" stroke-width="2.35" stroke-linecap="round"/><line x1="11.66" y1="9.87" x2="11.19" y2="9.83" stroke="#baa6a2" stroke-width="2.65" stroke-linecap="round"/><line x1="11.19" y1="9.83" x2="10.71" y2="9.86" stroke="#d5c8c4" stroke-width="2.95" stroke-linecap="round"/><line x1="10.71" y1="9.86" x2="10.20" y2="9.96" stroke="#f1e9e6" stroke-width="3.25" stroke-linecap="round"/><line x1="10.20" y1="9.96" x2="9.69" y2="10.15" stroke="#fffaf8" stroke-width="3.40" stroke-linecap="round"/><line x1="9.69" y1="10.15" x2="9.19" y2="10.41" stroke="#fffaf8" stroke-width="3.40" stroke-linecap="round"/><line x1="9.19" y1="10.41" x2="8.71" y2="10.77" stroke="#fffaf8" stroke-width="3.40" stroke-linecap="round"/><line x1="8.71" y1="10.77" x2="8.26" y2="11.20" stroke="#fffaf8" stroke-width="3.40" stroke-linecap="round"/><line x1="8.26" y1="11.20" x2="7.86" y2="11.71" stroke="#fffaf8" stroke-width="3.40" stroke-linecap="round"/><line x1="7.86" y1="11.71" x2="7.52" y2="12.29" stroke="#fffaf8" stroke-width="3.40" stroke-linecap="round"/><line x1="7.52" y1="12.29" x2="7.24" y2="12.94" stroke="#fffaf8" stroke-width="3.40" stroke-linecap="round"/><line x1="7.24" y1="12.94" x2="7.05" y2="13.65" stroke="#fffaf8" stroke-width="3.40" stroke-linecap="round"/><line x1="7.05" y1="13.65" x2="6.95" y2="14.40" stroke="#fef7f5" stroke-width="3.39" stroke-linecap="round"/><line x1="6.95" y1="14.40" x2="6.94" y2="15.19" stroke="#f4e2dd" stroke-width="3.24" stroke-linecap="round"/><line x1="6.94" y1="15.19" x2="7.04" y2="16.00" stroke="#ebccc4" stroke-width="3.09" stroke-linecap="round"/><line x1="7.04" y1="16.00" x2="7.25" y2="16.83" stroke="#e2b7ac" stroke-width="2.95" stroke-linecap="round"/><line x1="7.25" y1="16.83" x2="7.57" y2="17.64" stroke="#d9a194" stroke-width="2.80" stroke-linecap="round"/><line x1="7.57" y1="17.64" x2="8.01" y2="18.43" stroke="#cf8c7b" stroke-width="2.66" stroke-linecap="round"/><line x1="8.01" y1="18.43" x2="8.55" y2="19.19" stroke="#c67663" stroke-width="2.51" stroke-linecap="round"/><line x1="8.55" y1="19.19" x2="9.21" y2="19.89" stroke="#c4705c" stroke-width="2.36" stroke-linecap="round"/><line x1="9.21" y1="19.89" x2="9.98" y2="20.52" stroke="#c4705c" stroke-width="2.22" stroke-linecap="round"/><line x1="9.98" y1="20.52" x2="10.84" y2="21.07" stroke="#c4705c" stroke-width="2.07" stroke-linecap="round"/><line x1="11.03" y1="14.13" x2="11.01" y2="14.52" stroke="#67423b" stroke-width="1.75" stroke-linecap="round"/><line x1="11.01" y1="14.52" x2="11.06" y2="14.93" stroke="#83645d" stroke-width="2.05" stroke-linecap="round"/><line x1="11.06" y1="14.93" x2="11.18" y2="15.35" stroke="#9e857f" stroke-width="2.35" stroke-linecap="round"/><line x1="11.18" y1="15.35" x2="11.37" y2="15.77" stroke="#baa6a2" stroke-width="2.65" stroke-linecap="round"/><line x1="11.37" y1="15.77" x2="11.64" y2="16.18" stroke="#d5c8c4" stroke-width="2.95" stroke-linecap="round"/><line x1="11.64" y1="16.18" x2="11.98" y2="16.57" stroke="#f1e9e6" stroke-width="3.25" stroke-linecap="round"/><line x1="11.98" y1="16.57" x2="12.40" y2="16.92" stroke="#fffaf8" stroke-width="3.40" stroke-linecap="round"/><line x1="12.40" y1="16.92" x2="12.88" y2="17.22" stroke="#fffaf8" stroke-width="3.40" stroke-linecap="round"/><line x1="12.88" y1="17.22" x2="13.43" y2="17.46" stroke="#fffaf8" stroke-width="3.40" stroke-linecap="round"/><line x1="13.43" y1="17.46" x2="14.02" y2="17.63" stroke="#fffaf8" stroke-width="3.40" stroke-linecap="round"/><line x1="14.02" y1="17.63" x2="14.67" y2="17.72" stroke="#fffaf8" stroke-width="3.40" stroke-linecap="round"/><line x1="14.67" y1="17.72" x2="15.34" y2="17.73" stroke="#fffaf8" stroke-width="3.40" stroke-linecap="round"/><line x1="15.34" y1="17.73" x2="16.04" y2="17.64" stroke="#fffaf8" stroke-width="3.40" stroke-linecap="round"/><line x1="16.04" y1="17.64" x2="16.75" y2="17.45" stroke="#fffaf8" stroke-width="3.40" stroke-linecap="round"/><line x1="16.75" y1="17.45" x2="17.46" y2="17.17" stroke="#fef7f5" stroke-width="3.39" stroke-linecap="round"/><line x1="17.46" y1="17.17" x2="18.14" y2="16.78" stroke="#f4e2dd" stroke-width="3.24" stroke-linecap="round"/><line x1="18.14" y1="16.78" x2="18.80" y2="16.28" stroke="#ebccc4" stroke-width="3.09" stroke-linecap="round"/><line x1="18.80" y1="16.28" x2="19.41" y2="15.69" stroke="#e2b7ac" stroke-width="2.95" stroke-linecap="round"/><line x1="19.41" y1="15.69" x2="19.95" y2="15.01" stroke="#d9a194" stroke-width="2.80" stroke-linecap="round"/><line x1="19.95" y1="15.01" x2="20.42" y2="14.23" stroke="#cf8c7b" stroke-width="2.66" stroke-linecap="round"/><line x1="20.42" y1="14.23" x2="20.80" y2="13.38" stroke="#c67663" stroke-width="2.51" stroke-linecap="round"/><line x1="20.80" y1="13.38" x2="21.08" y2="12.46" stroke="#c4705c" stroke-width="2.36" stroke-linecap="round"/><line x1="21.08" y1="12.46" x2="21.24" y2="11.48" stroke="#c4705c" stroke-width="2.22" stroke-linecap="round"/><line x1="21.24" y1="11.48" x2="21.29" y2="10.46" stroke="#c4705c" stroke-width="2.07" stroke-linecap="round"/></g></g>
<text transform="translate(532.7,486.8) scale(1.25,1.05)" x="0" y="0" text-anchor="middle" style="font-family:'Liberation Serif',serif;font-weight:bold;font-size:15px" fill="#111">+3</text>
<text x="31.5" y="342.5" style="font-family:'Liberation Serif',serif;font-weight:bold;font-size:25px" fill="#111">(a)</text>
<text x="322.4" y="342.5" style="font-family:'Liberation Serif',serif;font-weight:bold;font-size:25px" fill="#111">(b)</text>
<text x="245.3" y="342.9" text-anchor="end" style="font-family:'Liberation Serif',serif;font-weight:bold;font-size:24px" fill="#9e4a30">Before</text>
<text x="532.2" y="341.7" text-anchor="end" style="font-family:'Liberation Serif',serif;font-weight:bold;font-size:24px" fill="#3c5676">After</text>
<g style="font-family:'Liberation Serif',serif;font-weight:bold;font-size:28.5px" fill="#000">
<text transform="translate(70.40,97.4) scale(0.97,1)" x="0" y="0">355nm</text>
<text transform="translate(78.40,129.5) scale(0.96,1)" x="0" y="0">Laser</text>
<text transform="translate(231.00,156.9) scale(0.954,1)" x="0" y="0">BBO</text>
<text transform="translate(362.27,156.6) scale(0.932,1)" x="0" y="0">L1</text>
<text transform="translate(531.66,156.4) scale(0.942,1)" x="0" y="0">L2</text>
<text transform="translate(521.56,37.5) scale(0.972,1)" x="0" y="0">SLM A</text>
<text transform="translate(771.85,37.7) scale(0.955,1)" x="0" y="0">L3</text>
<text transform="translate(875.40,37.3) scale(0.943,1)" x="0" y="0">BPF</text>
<text transform="translate(984.77,37.3) scale(1.0,1)" x="0" y="0">SMF</text>
<text transform="translate(1129.23,166) scale(0.986,1)" x="0" y="0">SPCM</text>
<text transform="translate(715.00,260.3) scale(0.965,1)" x="0" y="0">BS</text>
<text transform="translate(1161.86,325.4) scale(0.972,1)" x="0" y="0">SPCM</text>
<text transform="translate(801.51,366.8) scale(0.97,1)" x="0" y="0">L3</text>
<text transform="translate(929.80,366.8) scale(0.936,1)" x="0" y="0">BPF</text>
<text transform="translate(1050.55,366.8) scale(0.977,1)" x="0" y="0">SMF</text>
<text transform="translate(657.85,469.5) scale(0.976,1)" x="0" y="0">SLM B</text>
<text transform="translate(118.6,294.9) scale(0.93,1)" x="0" y="0" textLength="364" lengthAdjust="spacing">Entanglement Concentration</text>
</g>
</svg>
</body></html>
